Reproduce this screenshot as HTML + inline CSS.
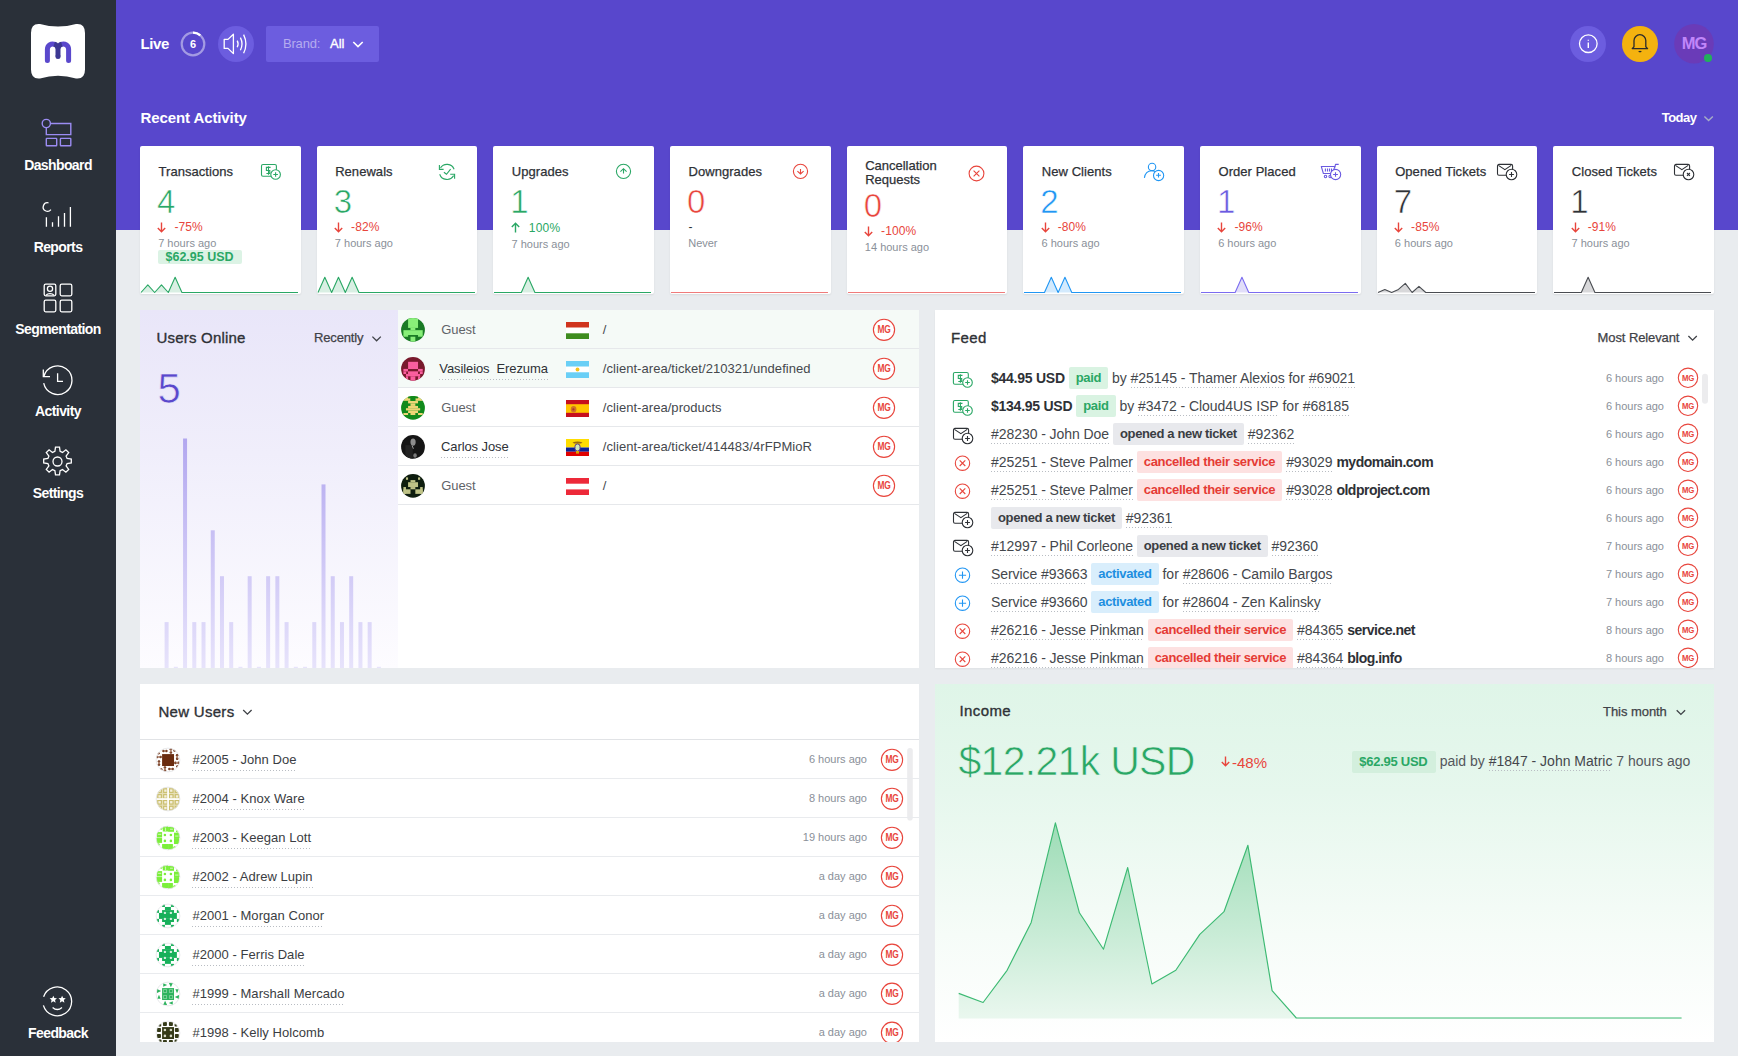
<!DOCTYPE html><html><head><meta charset="utf-8"><style>
*{box-sizing:border-box;margin:0;padding:0}
html,body{width:1738px;height:1056px;overflow:hidden;background:#e9ecef;font-family:"Liberation Sans", sans-serif}
.t{position:absolute;white-space:nowrap;line-height:1}
.a{position:absolute}
svg{position:absolute;overflow:visible}
.ul{background-image:linear-gradient(to right,#b9bdc3 50%,transparent 50%);background-size:3px 1px;background-repeat:repeat-x;background-position:0 100%;padding-bottom:5px}
.ul2{background-image:linear-gradient(to right,#b9bdc3 50%,transparent 50%);background-size:3px 1px;background-repeat:repeat-x;background-position:0 100%;padding-bottom:2px}
</style></head><body>
<div class="a" style="left:0;top:0;width:116px;height:1056px;background:#2a3039"></div><svg style="left:31px;top:23.5px" width="54" height="55" viewBox="0 0 54 55">
<path d="M9 0 Q27 5 45 0 Q54 -1 54 9 L54 45.5 Q54 55.5 45 54.5 Q27 49 9 54.5 Q0 55.5 0 45.5 L0 9 Q0 -1 9 0Z" fill="#fff"/>
<path d="M16.4 36.6 V25.2 A5.3 5.3 0 0 1 23.6 20.3" fill="none" stroke="#5a48cc" stroke-width="5" stroke-linecap="round"/>
<path d="M37.6 36.6 V25.2 A5.3 5.3 0 0 0 30.4 20.3" fill="none" stroke="#5a48cc" stroke-width="5" stroke-linecap="round"/>
<path d="M23.2 20.2 A5.3 5.3 0 0 1 27 25.2 V32.4 M30.8 20.2 A5.3 5.3 0 0 0 27 25.2" fill="none" stroke="#3d3893" stroke-width="5" stroke-linecap="butt"/>
<circle cx="27" cy="32.4" r="2.5" fill="#3d3893"/>
</svg><svg style="left:0;top:0" width="116" height="600">
<g fill="none" stroke="#9b8cf2" stroke-width="1.4">
<circle cx="46.3" cy="123.5" r="4.1"/>
<path d="M50.4 123.5 H70.8 V134.6 H46.3 V127.6"/>
<rect x="46.3" y="138.4" width="10.4" height="7.4" rx="0.5"/>
<rect x="60.4" y="138.4" width="10.4" height="7.4" rx="0.5"/>
</g>
<g fill="none" stroke="#fff" stroke-width="1.3">
<path d="M50.9 209.6 A4.3 4.3 0 1 1 48.5 202.8"/>
<path d="M46.4 217.2 V226.8 M52.5 222.2 V226.8 M58.5 216.2 V226.8 M64.5 212.9 V226.8 M70.4 206.9 V226.8"/>
<rect x="44.2" y="284.2" width="11.6" height="11.6" rx="1.5"/>
<rect x="60.2" y="284.2" width="11.6" height="11.6" rx="1.5"/>
<rect x="44.2" y="300.2" width="11.6" height="11.6" rx="1.5"/>
<rect x="60.2" y="300.2" width="11.6" height="11.6" rx="1.5"/>
<circle cx="50" cy="288.8" r="2.6"/>
<path d="M46 295.2 A5 4 0 0 1 54 295.2"/>
<path d="M43.9 376.4 A14.3 14.3 0 1 1 43.7 383.2"/>
<path d="M43.3 369.5 V376.6 H50"/>
<path d="M57.6 373.3 V381.4 H63"/>
<path d="M55.5 447.2 h4 l0.6 4.2 l2.4 1 l3.4 -2.6 l2.8 2.8 l-2.6 3.4 l1 2.4 l4.2 0.6 v4 l-4.2 0.6 l-1 2.4 l2.6 3.4 l-2.8 2.8 l-3.4 -2.6 l-2.4 1 l-0.6 4.2 h-4 l-0.6 -4.2 l-2.4 -1 l-3.4 2.6 l-2.8 -2.8 l2.6 -3.4 l-1 -2.4 l-4.2 -0.6 v-4 l4.2 -0.6 l1 -2.4 l-2.6 -3.4 l2.8 -2.8 l3.4 2.6 l2.4 -1 Z"/>
<circle cx="57.5" cy="461.5" r="4.5"/>
</g></svg><div class="t" style="left:0;width:116px;text-align:center;top:158.15px;font-size:14px;color:#fff;font-weight:700;letter-spacing:-0.6px">Dashboard</div><div class="t" style="left:0;width:116px;text-align:center;top:240.15px;font-size:14px;color:#fff;font-weight:700;letter-spacing:-0.6px">Reports</div><div class="t" style="left:0;width:116px;text-align:center;top:322.15px;font-size:14px;color:#fff;font-weight:700;letter-spacing:-0.6px">Segmentation</div><div class="t" style="left:0;width:116px;text-align:center;top:404.15px;font-size:14px;color:#fff;font-weight:700;letter-spacing:-0.6px">Activity</div><div class="t" style="left:0;width:116px;text-align:center;top:486.15px;font-size:14px;color:#fff;font-weight:700;letter-spacing:-0.6px">Settings</div><svg style="left:0;top:960px" width="116" height="96">
<g fill="none" stroke="#fff" stroke-width="1.3">
<path d="M43.6 36.8 A14.4 14.4 0 1 1 43.4 45.4"/>
<path d="M52.6 47.4 Q57.3 51.6 62 47.4"/>
</g>
<g fill="#fff">
<path transform="translate(53.3 39.3) scale(1.35) translate(-53.3 -39.3)" d="M53.3 36.6 l0.8 1.8 1.9 0.2 -1.4 1.3 0.4 1.9 -1.7 -1 -1.7 1 0.4 -1.9 -1.4 -1.3 1.9 -0.2z"/>
<path transform="translate(62.1 39.3) scale(1.35) translate(-62.1 -39.3)" d="M62.1 36.6 l0.8 1.8 1.9 0.2 -1.4 1.3 0.4 1.9 -1.7 -1 -1.7 1 0.4 -1.9 -1.4 -1.3 1.9 -0.2z"/>
</g></svg><div class="t" style="left:0;width:116px;text-align:center;top:1025.95px;font-size:14px;color:#fff;font-weight:700;letter-spacing:-0.6px">Feedback</div><div class="a" style="left:116px;top:0;width:1622px;height:230px;background:#5847cc"></div><div class="t" style="left:140.50px;top:36.00px;font-size:15px;color:#fff;font-weight:700;letter-spacing:-0.4px;">Live</div><svg style="left:0;top:0" width="1738" height="130">
<circle cx="193" cy="44" r="11.3" fill="none" stroke="rgba(255,255,255,0.45)" stroke-width="2.2"/>
<path d="M193 32.7 A11.3 11.3 0 0 1 200.3 35.4" fill="none" stroke="#fff" stroke-width="2.2"/>
<circle cx="236" cy="44" r="18" fill="#6c5ddf"/>
<g fill="none" stroke="#fff" stroke-width="1.3" stroke-linejoin="round">
<path d="M224.2 39.4 H228 L233.4 34.2 V53.6 L228 48.4 H224.2 Z"/>
<path d="M237.2 40.6 Q239 43.9 237.2 47.2"/>
<path d="M240.4 37.6 Q243.6 43.9 240.4 50.2"/>
<path d="M243.6 34.6 Q248.2 43.9 243.6 53.2"/>
</g>
<rect x="266" y="26" width="113" height="36" rx="2" fill="#6c5ddf"/>
<path d="M353.3 42 L358 46.6 L362.7 42" fill="none" stroke="#fff" stroke-width="1.6"/>
<circle cx="1588" cy="44" r="18" fill="#6c5ddf"/>
<circle cx="1588.3" cy="43.7" r="8.8" fill="none" stroke="#fff" stroke-width="1.3"/>
<path d="M1588.3 39.8 V40.8 M1588.3 42.4 V48" stroke="#fff" stroke-width="1.4"/>
<circle cx="1640" cy="44" r="18" fill="#f4b20f"/>
<g fill="none" stroke="#2b2b2b" stroke-width="1.3" stroke-linejoin="round">
<path d="M1634 46.8 V40.6 A5.9 5.9 0 0 1 1645.8 40.6 V46.8 L1647.6 48.6 H1632.2 L1634 46.8Z"/>
<path d="M1638.7 51.2 Q1640 52.2 1641.3 51.2"/>
</g>
<circle cx="1694" cy="43.8" r="19.8" fill="#6a3bb8"/>
<circle cx="1708" cy="57.9" r="4" fill="#22b05c"/>
<path d="M1704.4 116.4 L1708.6 120.6 L1712.8 116.4" fill="none" stroke="#a7aec6" stroke-width="1.4"/>
</svg><div class="t" style="left:193.00px;top:38.69px;font-size:11px;color:#fff;font-weight:700;letter-spacing:0px;transform:translateX(-50%)">6</div><div class="t" style="left:283.00px;top:37.10px;font-size:13px;color:#b5acef;font-weight:400;letter-spacing:-0.2px;">Brand:</div><div class="t" style="left:330.00px;top:37.10px;font-size:13px;color:#fff;font-weight:400;letter-spacing:0px;-webkit-text-stroke:0.35px #fff">All</div><div class="t" style="left:1694.00px;top:35.33px;font-size:16.5px;color:#c186fa;font-weight:700;letter-spacing:-1px;transform:translateX(-50%)">MG</div><div class="t" style="left:140.50px;top:110.30px;font-size:15px;color:#fff;font-weight:700;letter-spacing:-0.1px;">Recent Activity</div><div class="t" style="left:1661.70px;top:111.00px;font-size:13px;color:#fff;font-weight:700;letter-spacing:-0.5px;">Today</div><div class="a" style="left:140.00px;top:146px;width:160.67px;height:148px;background:#fff;border-radius:2px;box-shadow:0 1px 2px rgba(0,0,0,0.08)"><div class="t" style="left:18.50px;top:18.80px;font-size:13px;color:#2e3136;font-weight:400;letter-spacing:0.05px;-webkit-text-stroke:0.25px #2e3136">Transactions</div><div class="t" style="left:17.00px;top:39.37px;font-size:33px;color:#2aa765;font-weight:400;letter-spacing:0px;-webkit-text-stroke:0.6px #fff">4</div><svg style="left:17.3px;top:76.30000000000001px" width="9" height="11"><path d="M4.5 0.5 V9.6 M0.8 6 L4.5 9.8 L8.2 6" fill="none" stroke="#e8453c" stroke-width="1.4"/></svg><div class="t" style="left:34.40px;top:74.84px;font-size:12px;color:#e8453c;font-weight:400;letter-spacing:0.1px;">-75%</div><div class="t" style="left:18.20px;top:91.99px;font-size:11px;color:#8a9099;font-weight:400;letter-spacing:0px;">7 hours ago</div><div class="a" style="left:18.2px;top:104px;width:83.7px;height:13.6px;background:#dcf3e5;border-radius:2px"></div><div class="t" style="left:25.50px;top:105.12px;font-size:12.5px;color:#2aa765;font-weight:700;letter-spacing:0px;">$62.95 USD</div><svg style="left:0;top:0" width="160.67" height="148"><path d="M1.00 146.50 L7.82 138.90 L14.65 146.50 L21.47 138.90 L28.30 146.50 L35.12 131.30 L41.95 146.50 L48.77 146.50 L55.60 146.50 L62.42 146.50 L69.25 146.50 L76.07 146.50 L82.90 146.50 L89.72 146.50 L96.54 146.50 L103.37 146.50 L110.19 146.50 L117.02 146.50 L123.84 146.50 L130.67 146.50 L137.49 146.50 L144.32 146.50 L151.14 146.50 L157.97 146.50 L157.97 146.5 L1.00 146.5 Z" fill="rgba(42,167,101,0.18)"/><path d="M1.00 146.50 L7.82 138.90 L14.65 146.50 L21.47 138.90 L28.30 146.50 L35.12 131.30 L41.95 146.50 L48.77 146.50 L55.60 146.50 L62.42 146.50 L69.25 146.50 L76.07 146.50 L82.90 146.50 L89.72 146.50 L96.54 146.50 L103.37 146.50 L110.19 146.50 L117.02 146.50 L123.84 146.50 L130.67 146.50 L137.49 146.50 L144.32 146.50 L151.14 146.50 L157.97 146.50" fill="none" stroke="#2aa765" stroke-width="1.1" stroke-linejoin="round"/></svg></div><div class="a" style="left:316.67px;top:146px;width:160.67px;height:148px;background:#fff;border-radius:2px;box-shadow:0 1px 2px rgba(0,0,0,0.08)"><div class="t" style="left:18.50px;top:18.80px;font-size:13px;color:#2e3136;font-weight:400;letter-spacing:0.05px;-webkit-text-stroke:0.25px #2e3136">Renewals</div><div class="t" style="left:17.00px;top:39.37px;font-size:33px;color:#2aa765;font-weight:400;letter-spacing:0px;-webkit-text-stroke:0.6px #fff">3</div><svg style="left:17.3px;top:76.30000000000001px" width="9" height="11"><path d="M4.5 0.5 V9.6 M0.8 6 L4.5 9.8 L8.2 6" fill="none" stroke="#e8453c" stroke-width="1.4"/></svg><div class="t" style="left:34.40px;top:74.84px;font-size:12px;color:#e8453c;font-weight:400;letter-spacing:0.1px;">-82%</div><div class="t" style="left:18.20px;top:91.99px;font-size:11px;color:#8a9099;font-weight:400;letter-spacing:0px;">7 hours ago</div><svg style="left:0;top:0" width="160.67" height="148"><path d="M1.00 146.50 L7.82 131.30 L14.65 146.50 L21.47 131.30 L28.30 146.50 L35.12 131.30 L41.95 146.50 L48.77 146.50 L55.60 146.50 L62.42 146.50 L69.25 146.50 L76.07 146.50 L82.90 146.50 L89.72 146.50 L96.54 146.50 L103.37 146.50 L110.19 146.50 L117.02 146.50 L123.84 146.50 L130.67 146.50 L137.49 146.50 L144.32 146.50 L151.14 146.50 L157.97 146.50 L157.97 146.5 L1.00 146.5 Z" fill="rgba(42,167,101,0.18)"/><path d="M1.00 146.50 L7.82 131.30 L14.65 146.50 L21.47 131.30 L28.30 146.50 L35.12 131.30 L41.95 146.50 L48.77 146.50 L55.60 146.50 L62.42 146.50 L69.25 146.50 L76.07 146.50 L82.90 146.50 L89.72 146.50 L96.54 146.50 L103.37 146.50 L110.19 146.50 L117.02 146.50 L123.84 146.50 L130.67 146.50 L137.49 146.50 L144.32 146.50 L151.14 146.50 L157.97 146.50" fill="none" stroke="#2aa765" stroke-width="1.1" stroke-linejoin="round"/></svg></div><div class="a" style="left:493.33px;top:146px;width:160.67px;height:148px;background:#fff;border-radius:2px;box-shadow:0 1px 2px rgba(0,0,0,0.08)"><div class="t" style="left:18.50px;top:18.80px;font-size:13px;color:#2e3136;font-weight:400;letter-spacing:0.05px;-webkit-text-stroke:0.25px #2e3136">Upgrades</div><div class="t" style="left:17.00px;top:39.37px;font-size:33px;color:#2aa765;font-weight:400;letter-spacing:0px;-webkit-text-stroke:0.6px #fff">1</div><svg style="left:17.3px;top:76.30000000000001px" width="9" height="11"><path d="M4.5 10.5 V1.2 M0.8 5 L4.5 1.2 L8.2 5" fill="none" stroke="#2aa765" stroke-width="1.4"/></svg><div class="t" style="left:35.50px;top:75.84px;font-size:12px;color:#2aa765;font-weight:400;letter-spacing:0.2px;">100%</div><div class="t" style="left:18.20px;top:92.99px;font-size:11px;color:#8a9099;font-weight:400;letter-spacing:0px;">7 hours ago</div><svg style="left:0;top:0" width="160.67" height="148"><path d="M1.00 146.50 L7.82 146.50 L14.65 146.50 L21.47 146.50 L28.30 146.50 L35.12 131.30 L41.95 146.50 L48.77 146.50 L55.60 146.50 L62.42 146.50 L69.25 146.50 L76.07 146.50 L82.90 146.50 L89.72 146.50 L96.54 146.50 L103.37 146.50 L110.19 146.50 L117.02 146.50 L123.84 146.50 L130.67 146.50 L137.49 146.50 L144.32 146.50 L151.14 146.50 L157.97 146.50 L157.97 146.5 L1.00 146.5 Z" fill="rgba(42,167,101,0.18)"/><path d="M1.00 146.50 L7.82 146.50 L14.65 146.50 L21.47 146.50 L28.30 146.50 L35.12 131.30 L41.95 146.50 L48.77 146.50 L55.60 146.50 L62.42 146.50 L69.25 146.50 L76.07 146.50 L82.90 146.50 L89.72 146.50 L96.54 146.50 L103.37 146.50 L110.19 146.50 L117.02 146.50 L123.84 146.50 L130.67 146.50 L137.49 146.50 L144.32 146.50 L151.14 146.50 L157.97 146.50" fill="none" stroke="#2aa765" stroke-width="1.1" stroke-linejoin="round"/></svg></div><div class="a" style="left:670.00px;top:146px;width:160.67px;height:148px;background:#fff;border-radius:2px;box-shadow:0 1px 2px rgba(0,0,0,0.08)"><div class="t" style="left:18.50px;top:18.80px;font-size:13px;color:#2e3136;font-weight:400;letter-spacing:0.05px;-webkit-text-stroke:0.25px #2e3136">Downgrades</div><div class="t" style="left:17.00px;top:39.37px;font-size:33px;color:#e8453c;font-weight:400;letter-spacing:0px;-webkit-text-stroke:0.6px #fff">0</div><div class="t" style="left:18.50px;top:74.84px;font-size:12px;color:#2e3136;font-weight:400;letter-spacing:0px;">-</div><div class="t" style="left:18.20px;top:91.99px;font-size:11px;color:#8a9099;font-weight:400;letter-spacing:0px;">Never</div><svg style="left:0;top:0" width="160.67" height="148"><path d="M1.00 146.50 L7.82 146.50 L14.65 146.50 L21.47 146.50 L28.30 146.50 L35.12 146.50 L41.95 146.50 L48.77 146.50 L55.60 146.50 L62.42 146.50 L69.25 146.50 L76.07 146.50 L82.90 146.50 L89.72 146.50 L96.54 146.50 L103.37 146.50 L110.19 146.50 L117.02 146.50 L123.84 146.50 L130.67 146.50 L137.49 146.50 L144.32 146.50 L151.14 146.50 L157.97 146.50 L157.97 146.5 L1.00 146.5 Z" fill="rgba(0,0,0,0)"/><path d="M1.00 146.50 L7.82 146.50 L14.65 146.50 L21.47 146.50 L28.30 146.50 L35.12 146.50 L41.95 146.50 L48.77 146.50 L55.60 146.50 L62.42 146.50 L69.25 146.50 L76.07 146.50 L82.90 146.50 L89.72 146.50 L96.54 146.50 L103.37 146.50 L110.19 146.50 L117.02 146.50 L123.84 146.50 L130.67 146.50 L137.49 146.50 L144.32 146.50 L151.14 146.50 L157.97 146.50" fill="none" stroke="#ef7b7b" stroke-width="1.1" stroke-linejoin="round"/></svg></div><div class="a" style="left:846.67px;top:146px;width:160.67px;height:148px;background:#fff;border-radius:2px;box-shadow:0 1px 2px rgba(0,0,0,0.08)"><div class="t" style="left:18.5px;top:13.30px;font-size:13px;line-height:13.6px;color:#2e3136;-webkit-text-stroke:0.25px #2e3136">Cancellation<br>Requests</div><div class="t" style="left:17.00px;top:43.37px;font-size:33px;color:#e8453c;font-weight:400;letter-spacing:0px;-webkit-text-stroke:0.6px #fff">0</div><svg style="left:17.3px;top:80.30000000000001px" width="9" height="11"><path d="M4.5 0.5 V9.6 M0.8 6 L4.5 9.8 L8.2 6" fill="none" stroke="#e8453c" stroke-width="1.4"/></svg><div class="t" style="left:34.40px;top:78.84px;font-size:12px;color:#e8453c;font-weight:400;letter-spacing:0.1px;">-100%</div><div class="t" style="left:18.20px;top:95.99px;font-size:11px;color:#8a9099;font-weight:400;letter-spacing:0px;">14 hours ago</div><svg style="left:0;top:0" width="160.67" height="148"><path d="M1.00 146.50 L7.82 146.50 L14.65 146.50 L21.47 146.50 L28.30 146.50 L35.12 146.50 L41.95 146.50 L48.77 146.50 L55.60 146.50 L62.42 146.50 L69.25 146.50 L76.07 146.50 L82.90 146.50 L89.72 146.50 L96.54 146.50 L103.37 146.50 L110.19 146.50 L117.02 146.50 L123.84 146.50 L130.67 146.50 L137.49 146.50 L144.32 146.50 L151.14 146.50 L157.97 146.50 L157.97 146.5 L1.00 146.5 Z" fill="rgba(0,0,0,0)"/><path d="M1.00 146.50 L7.82 146.50 L14.65 146.50 L21.47 146.50 L28.30 146.50 L35.12 146.50 L41.95 146.50 L48.77 146.50 L55.60 146.50 L62.42 146.50 L69.25 146.50 L76.07 146.50 L82.90 146.50 L89.72 146.50 L96.54 146.50 L103.37 146.50 L110.19 146.50 L117.02 146.50 L123.84 146.50 L130.67 146.50 L137.49 146.50 L144.32 146.50 L151.14 146.50 L157.97 146.50" fill="none" stroke="#ef7b7b" stroke-width="1.1" stroke-linejoin="round"/></svg></div><div class="a" style="left:1023.33px;top:146px;width:160.67px;height:148px;background:#fff;border-radius:2px;box-shadow:0 1px 2px rgba(0,0,0,0.08)"><div class="t" style="left:18.50px;top:18.80px;font-size:13px;color:#2e3136;font-weight:400;letter-spacing:0.05px;-webkit-text-stroke:0.25px #2e3136">New Clients</div><div class="t" style="left:17.00px;top:39.37px;font-size:33px;color:#2196f3;font-weight:400;letter-spacing:0px;-webkit-text-stroke:0.6px #fff">2</div><svg style="left:17.3px;top:76.30000000000001px" width="9" height="11"><path d="M4.5 0.5 V9.6 M0.8 6 L4.5 9.8 L8.2 6" fill="none" stroke="#e8453c" stroke-width="1.4"/></svg><div class="t" style="left:34.40px;top:74.84px;font-size:12px;color:#e8453c;font-weight:400;letter-spacing:0.1px;">-80%</div><div class="t" style="left:18.20px;top:91.99px;font-size:11px;color:#8a9099;font-weight:400;letter-spacing:0px;">6 hours ago</div><svg style="left:0;top:0" width="160.67" height="148"><path d="M1.00 146.50 L7.82 146.50 L14.65 146.50 L21.47 146.50 L28.30 131.30 L35.12 146.50 L41.95 131.30 L48.77 146.50 L55.60 146.50 L62.42 146.50 L69.25 146.50 L76.07 146.50 L82.90 146.50 L89.72 146.50 L96.54 146.50 L103.37 146.50 L110.19 146.50 L117.02 146.50 L123.84 146.50 L130.67 146.50 L137.49 146.50 L144.32 146.50 L151.14 146.50 L157.97 146.50 L157.97 146.5 L1.00 146.5 Z" fill="rgba(33,150,243,0.2)"/><path d="M1.00 146.50 L7.82 146.50 L14.65 146.50 L21.47 146.50 L28.30 131.30 L35.12 146.50 L41.95 131.30 L48.77 146.50 L55.60 146.50 L62.42 146.50 L69.25 146.50 L76.07 146.50 L82.90 146.50 L89.72 146.50 L96.54 146.50 L103.37 146.50 L110.19 146.50 L117.02 146.50 L123.84 146.50 L130.67 146.50 L137.49 146.50 L144.32 146.50 L151.14 146.50 L157.97 146.50" fill="none" stroke="#2196f3" stroke-width="1.1" stroke-linejoin="round"/></svg></div><div class="a" style="left:1200.00px;top:146px;width:160.67px;height:148px;background:#fff;border-radius:2px;box-shadow:0 1px 2px rgba(0,0,0,0.08)"><div class="t" style="left:18.50px;top:18.80px;font-size:13px;color:#2e3136;font-weight:400;letter-spacing:0.05px;-webkit-text-stroke:0.25px #2e3136">Order Placed</div><div class="t" style="left:17.00px;top:39.37px;font-size:33px;color:#6a5ae0;font-weight:400;letter-spacing:0px;-webkit-text-stroke:0.6px #fff">1</div><svg style="left:17.3px;top:76.30000000000001px" width="9" height="11"><path d="M4.5 0.5 V9.6 M0.8 6 L4.5 9.8 L8.2 6" fill="none" stroke="#e8453c" stroke-width="1.4"/></svg><div class="t" style="left:34.40px;top:74.84px;font-size:12px;color:#e8453c;font-weight:400;letter-spacing:0.1px;">-96%</div><div class="t" style="left:18.20px;top:91.99px;font-size:11px;color:#8a9099;font-weight:400;letter-spacing:0px;">6 hours ago</div><svg style="left:0;top:0" width="160.67" height="148"><path d="M1.00 146.50 L7.82 146.50 L14.65 146.50 L21.47 146.50 L28.30 146.50 L35.12 146.50 L41.95 131.30 L48.77 146.50 L55.60 146.50 L62.42 146.50 L69.25 146.50 L76.07 146.50 L82.90 146.50 L89.72 146.50 L96.54 146.50 L103.37 146.50 L110.19 146.50 L117.02 146.50 L123.84 146.50 L130.67 146.50 L137.49 146.50 L144.32 146.50 L151.14 146.50 L157.97 146.50 L157.97 146.5 L1.00 146.5 Z" fill="rgba(106,90,224,0.2)"/><path d="M1.00 146.50 L7.82 146.50 L14.65 146.50 L21.47 146.50 L28.30 146.50 L35.12 146.50 L41.95 131.30 L48.77 146.50 L55.60 146.50 L62.42 146.50 L69.25 146.50 L76.07 146.50 L82.90 146.50 L89.72 146.50 L96.54 146.50 L103.37 146.50 L110.19 146.50 L117.02 146.50 L123.84 146.50 L130.67 146.50 L137.49 146.50 L144.32 146.50 L151.14 146.50 L157.97 146.50" fill="none" stroke="#7b6cf0" stroke-width="1.1" stroke-linejoin="round"/></svg></div><div class="a" style="left:1376.67px;top:146px;width:160.67px;height:148px;background:#fff;border-radius:2px;box-shadow:0 1px 2px rgba(0,0,0,0.08)"><div class="t" style="left:18.50px;top:18.80px;font-size:13px;color:#2e3136;font-weight:400;letter-spacing:0.05px;-webkit-text-stroke:0.25px #2e3136">Opened Tickets</div><div class="t" style="left:17.00px;top:39.37px;font-size:33px;color:#2e3136;font-weight:400;letter-spacing:0px;-webkit-text-stroke:0.6px #fff">7</div><svg style="left:17.3px;top:76.30000000000001px" width="9" height="11"><path d="M4.5 0.5 V9.6 M0.8 6 L4.5 9.8 L8.2 6" fill="none" stroke="#e8453c" stroke-width="1.4"/></svg><div class="t" style="left:34.40px;top:74.84px;font-size:12px;color:#e8453c;font-weight:400;letter-spacing:0.1px;">-85%</div><div class="t" style="left:18.20px;top:91.99px;font-size:11px;color:#8a9099;font-weight:400;letter-spacing:0px;">6 hours ago</div><svg style="left:0;top:0" width="160.67" height="148"><path d="M1.00 146.50 L7.82 143.46 L14.65 146.50 L21.47 143.46 L28.30 137.38 L35.12 146.50 L41.95 140.42 L48.77 146.50 L55.60 146.50 L62.42 146.50 L69.25 146.50 L76.07 146.50 L82.90 146.50 L89.72 146.50 L96.54 146.50 L103.37 146.50 L110.19 146.50 L117.02 146.50 L123.84 146.50 L130.67 146.50 L137.49 146.50 L144.32 146.50 L151.14 146.50 L157.97 146.50 L157.97 146.5 L1.00 146.5 Z" fill="rgba(60,60,70,0.2)"/><path d="M1.00 146.50 L7.82 143.46 L14.65 146.50 L21.47 143.46 L28.30 137.38 L35.12 146.50 L41.95 140.42 L48.77 146.50 L55.60 146.50 L62.42 146.50 L69.25 146.50 L76.07 146.50 L82.90 146.50 L89.72 146.50 L96.54 146.50 L103.37 146.50 L110.19 146.50 L117.02 146.50 L123.84 146.50 L130.67 146.50 L137.49 146.50 L144.32 146.50 L151.14 146.50 L157.97 146.50" fill="none" stroke="#4a4d52" stroke-width="1.1" stroke-linejoin="round"/></svg></div><div class="a" style="left:1553.33px;top:146px;width:160.67px;height:148px;background:#fff;border-radius:2px;box-shadow:0 1px 2px rgba(0,0,0,0.08)"><div class="t" style="left:18.50px;top:18.80px;font-size:13px;color:#2e3136;font-weight:400;letter-spacing:0.05px;-webkit-text-stroke:0.25px #2e3136">Closed Tickets</div><div class="t" style="left:17.00px;top:39.37px;font-size:33px;color:#2e3136;font-weight:400;letter-spacing:0px;-webkit-text-stroke:0.6px #fff">1</div><svg style="left:17.3px;top:76.30000000000001px" width="9" height="11"><path d="M4.5 0.5 V9.6 M0.8 6 L4.5 9.8 L8.2 6" fill="none" stroke="#e8453c" stroke-width="1.4"/></svg><div class="t" style="left:34.40px;top:74.84px;font-size:12px;color:#e8453c;font-weight:400;letter-spacing:0.1px;">-91%</div><div class="t" style="left:18.20px;top:91.99px;font-size:11px;color:#8a9099;font-weight:400;letter-spacing:0px;">7 hours ago</div><svg style="left:0;top:0" width="160.67" height="148"><path d="M1.00 146.50 L7.82 146.50 L14.65 146.50 L21.47 146.50 L28.30 146.50 L35.12 131.30 L41.95 146.50 L48.77 146.50 L55.60 146.50 L62.42 146.50 L69.25 146.50 L76.07 146.50 L82.90 146.50 L89.72 146.50 L96.54 146.50 L103.37 146.50 L110.19 146.50 L117.02 146.50 L123.84 146.50 L130.67 146.50 L137.49 146.50 L144.32 146.50 L151.14 146.50 L157.97 146.50 L157.97 146.5 L1.00 146.5 Z" fill="rgba(60,60,70,0.2)"/><path d="M1.00 146.50 L7.82 146.50 L14.65 146.50 L21.47 146.50 L28.30 146.50 L35.12 131.30 L41.95 146.50 L48.77 146.50 L55.60 146.50 L62.42 146.50 L69.25 146.50 L76.07 146.50 L82.90 146.50 L89.72 146.50 L96.54 146.50 L103.37 146.50 L110.19 146.50 L117.02 146.50 L123.84 146.50 L130.67 146.50 L137.49 146.50 L144.32 146.50 L151.14 146.50 L157.97 146.50" fill="none" stroke="#4a4d52" stroke-width="1.1" stroke-linejoin="round"/></svg></div><svg style="left:0;top:0" width="1738" height="200"><g transform="translate(255 158)"><g fill="none" stroke="#2aa765" stroke-width="1.1"><rect x="6.5" y="6.5" width="14.9" height="11.8" rx="1.5"/><path d="M15.6 9.4 H11.4 V12.5 H14.8 V15.5 H11.4 M13.5 8.2 V16.8"/><circle cx="20.6" cy="16.5" r="4.8" fill="#fff"/><path d="M20.6 14.2 V18.8 M18.3 16.5 H22.9"/></g></g><g transform="translate(432 158)"><g fill="none" stroke="#2aa765" stroke-width="1.1"><path d="M8.5 9.9 A7.67 7.67 0 0 1 22.1 11.2"/><path d="M7.4 7.1 V11.4 H11.6"/><path d="M7.7 16.2 A7.67 7.67 0 0 0 21.6 17.6"/><path d="M22.6 20.7 V16.2 H18.2"/><path d="M11.9 14.2 L14.5 16.3 L18.6 11.2"/></g></g><g transform="translate(608 158)"><g fill="none" stroke="#2aa765" stroke-width="1.1"><circle cx="15.5" cy="13.35" r="7.1"/><path d="M15.5 15.6 V10.8 M12.4 13.6 L15.5 10.7 L18.6 13.6"/></g></g><g transform="translate(785 158)"><g fill="none" stroke="#e8453c" stroke-width="1.1"><circle cx="15.5" cy="13.35" r="7.1"/><path d="M15.5 11.1 V15.9 M12.4 13.1 L15.5 16 L18.6 13.1"/></g></g><g transform="translate(961 158)"><g fill="none" stroke="#e8453c" stroke-width="1.1"><circle cx="15.5" cy="15.5" r="7.4"/><path d="M12.6 12.6 L18.4 18.4 M18.4 12.6 L12.6 18.4"/></g></g><g transform="translate(1139 158)"><g fill="none" stroke="#2196f3" stroke-width="1.1"><circle cx="13.07" cy="8.95" r="3.7"/><path d="M5.4 19.9 Q6.3 12.8 12.8 12.7 Q14.6 12.7 16 13.4"/><circle cx="19.6" cy="17.5" r="5.1" fill="#fff"/><path d="M19.5 15 V19.6 M17.1 17.3 H21.9"/></g></g><g transform="translate(1316 158)"><g fill="none" stroke="#6a5ae0" stroke-width="1.1" stroke-linejoin="round"><path d="M18.8 9.4 L19.5 6.4 H22.7"/><path d="M5.3 8.5 H18.9 L16.4 15.5 H7.4 Z"/><path d="M9.4 10.4 V13.6 M11.5 10.4 V13.6 M13.5 10.4 V13.6 M15.5 10.4 V13.6"/><circle cx="9.5" cy="18.5" r="1.2"/><circle cx="14.1" cy="18.5" r="1.2"/><circle cx="19.6" cy="16.5" r="5.1" fill="#fff"/><path d="M19.5 14.2 V18.8 M17.1 16.5 H21.9"/></g></g><g transform="translate(1493 158)"><g fill="none" stroke="#2e3136" stroke-width="1.1"><rect x="4.5" y="6.4" width="15.1" height="10.9" rx="1.5"/><path d="M5.4 7.4 L11.9 11.6 L18.2 7.4"/><circle cx="18.5" cy="16.5" r="5.3" fill="#fff"/><path d="M18.5 14.1 V18.9 M16.1 16.5 H20.9"/></g></g><g transform="translate(1670 158)"><g fill="none" stroke="#2e3136" stroke-width="1.1"><rect x="4.5" y="6.4" width="15.1" height="10.9" rx="1.5"/><path d="M5.4 7.4 L11.9 11.6 L18.2 7.4"/><circle cx="18.5" cy="16.5" r="5.3" fill="#fff"/><path d="M17 15 L19.9 17.9 M19.9 15 L17 17.9"/></g></g></svg><div class="a" style="left:140px;top:310px;width:779px;height:358px;background:#fff;overflow:hidden"><div class="a" style="left:0;top:0;width:258px;height:358px;background:linear-gradient(to bottom,#e9e6f9 0%,#f0eefb 40%,#fdfcff 100%)"></div><div class="t" style="left:16.50px;top:19.90px;font-size:15px;color:#2e3136;font-weight:400;letter-spacing:0.2px;-webkit-text-stroke:0.35px #2e3136">Users Online</div><div class="t" style="left:174.00px;top:21.00px;font-size:13px;color:#3f4247;font-weight:400;letter-spacing:-0.15px;-webkit-text-stroke:0.25px #3f4247">Recently</div><svg style="left:0;top:0" width="258" height="358"><path d="M232.4 26.6 L236.6 30.8 L240.8 26.6" fill="none" stroke="#3f4247" stroke-width="1.3"/></svg><div class="t" style="left:17.50px;top:57.95px;font-size:42px;color:#5a48cc;font-weight:400;letter-spacing:0px;-webkit-text-stroke:0.7px #ebe8f9">5</div><svg style="left:0;top:0" width="258" height="358"><defs><linearGradient id="bg1" gradientUnits="userSpaceOnUse" x1="0" y1="128" x2="0" y2="358"><stop offset="0" stop-color="#b2a7ef"/><stop offset="1" stop-color="#e7e3fb"/></linearGradient></defs><g fill="url(#bg1)"><rect x="24.60" y="312.10" width="4" height="45.90"/><rect x="33.83" y="356.80" width="4" height="1.20"/><rect x="43.06" y="128.50" width="4" height="229.50"/><rect x="52.29" y="312.10" width="4" height="45.90"/><rect x="61.52" y="312.10" width="4" height="45.90"/><rect x="70.75" y="220.30" width="4" height="137.70"/><rect x="79.98" y="266.20" width="4" height="91.80"/><rect x="89.21" y="312.10" width="4" height="45.90"/><rect x="98.44" y="356.80" width="4" height="1.20"/><rect x="107.67" y="266.20" width="4" height="91.80"/><rect x="116.90" y="356.80" width="4" height="1.20"/><rect x="126.13" y="266.20" width="4" height="91.80"/><rect x="135.36" y="266.20" width="4" height="91.80"/><rect x="144.59" y="312.10" width="4" height="45.90"/><rect x="153.82" y="356.80" width="4" height="1.20"/><rect x="163.05" y="356.80" width="4" height="1.20"/><rect x="172.28" y="312.10" width="4" height="45.90"/><rect x="181.51" y="174.40" width="4" height="183.60"/><rect x="190.74" y="266.20" width="4" height="91.80"/><rect x="199.97" y="312.10" width="4" height="45.90"/><rect x="209.20" y="266.20" width="4" height="91.80"/><rect x="218.43" y="312.10" width="4" height="45.90"/><rect x="227.66" y="312.10" width="4" height="45.90"/><rect x="236.89" y="356.80" width="4" height="1.20"/></g></svg><div class="a" style="left:258px;top:0px;width:521px;height:39px;background:#f5faf7;border-bottom:1px solid #e6e8eb"></div><svg style="left:0;top:0" width="779" height="358"><clipPath id="av314"><circle cx="273.00" cy="19.91" r="11.9"/></clipPath><g clip-path="url(#av314)"><rect x="258.00" y="4.00" width="30" height="30" fill="#197a25"/><rect x="268.09" y="7.98" width="9.94" height="9.94" fill="#88ef79"/><rect x="270.50" y="17.92" width="4.83" height="2.27" fill="#88ef79"/><rect x="263.40" y="20.19" width="19.32" height="4.83" fill="#88ef79"/><rect x="263.40" y="25.02" width="4.69" height="1.70" fill="#88ef79"/><rect x="278.03" y="25.02" width="4.69" height="1.70" fill="#88ef79"/><rect x="270.50" y="26.73" width="4.83" height="5.11" fill="#88ef79"/></g></svg><div class="t" style="left:301.30px;top:12.90px;font-size:13px;color:#5f6368;font-weight:400;letter-spacing:-0.1px;">Guest</div><svg style="left:426px;top:12px" width="23" height="17"><rect width="23" height="5.7" fill="#d0341e"/><rect y="5.7" width="23" height="5.7" fill="#fff"/><rect y="11.3" width="23" height="5.7" fill="#3f8c1f"/></svg><div class="t" style="left:462.80px;top:12.90px;font-size:13px;color:#45484d;font-weight:400;letter-spacing:0.05px;">/</div><svg style="left:0;top:0" width="779" height="358"><circle cx="744" cy="19.8" r="10.6" fill="#fff" stroke="#e8453c" stroke-width="1.15"/></svg><div class="t" style="left:744.00px;top:14.41px;font-size:10.5px;color:#e8453c;font-weight:700;letter-spacing:-0.3px;transform:translateX(-50%) scaleX(0.8)">MG</div><div class="a" style="left:258px;top:39px;width:521px;height:39px;background:#f5faf7;border-bottom:1px solid #e6e8eb"></div><svg style="left:0;top:0" width="779" height="358"><clipPath id="av353"><circle cx="273.00" cy="58.91" r="11.9"/></clipPath><g clip-path="url(#av353)"><rect x="258.00" y="43.00" width="30" height="30" fill="#78192c"/><rect x="268.09" y="51.81" width="9.94" height="7.39" fill="#fa5e9e"/><rect x="263.40" y="58.91" width="4.69" height="2.56" fill="#fa5e9e"/><rect x="278.03" y="58.91" width="4.69" height="2.56" fill="#fa5e9e"/><rect x="263.40" y="61.47" width="2.84" height="2.56" fill="#fa5e9e"/><rect x="267.94" y="61.18" width="10.09" height="2.84" fill="#fa5e9e"/><rect x="279.88" y="61.47" width="2.84" height="2.56" fill="#fa5e9e"/><rect x="265.95" y="64.02" width="14.20" height="2.27" fill="#fa5e9e"/><rect x="265.95" y="66.30" width="2.13" height="4.55" fill="#fa5e9e"/><rect x="270.50" y="66.30" width="4.83" height="4.55" fill="#fa5e9e"/><rect x="278.03" y="66.30" width="2.13" height="4.55" fill="#fa5e9e"/><rect x="268.09" y="59.19" width="9.94" height="1.99" fill="#78192c"/></g></svg><div class="t ul" style="left:299.3px;top:51.90px;font-size:13px;color:#2e3136;letter-spacing:-0.1px">Vasileios&nbsp; Erezuma</div><svg style="left:426px;top:51px" width="23" height="17"><rect width="23" height="5.7" fill="#6acff6"/><rect y="5.7" width="23" height="5.7" fill="#fff"/><rect y="11.3" width="23" height="5.7" fill="#6acff6"/><circle cx="11.5" cy="8.5" r="1.9" fill="#f6c21c"/></svg><div class="t" style="left:462.80px;top:51.90px;font-size:13px;color:#45484d;font-weight:400;letter-spacing:0.05px;">/client-area/ticket/210321/undefined</div><svg style="left:0;top:0" width="779" height="358"><circle cx="744" cy="58.8" r="10.6" fill="#fff" stroke="#e8453c" stroke-width="1.15"/></svg><div class="t" style="left:744.00px;top:53.41px;font-size:10.5px;color:#e8453c;font-weight:700;letter-spacing:-0.3px;transform:translateX(-50%) scaleX(0.8)">MG</div><div class="a" style="left:258px;top:78px;width:521px;height:39px;border-bottom:1px solid #e6e8eb"></div><svg style="left:0;top:0" width="779" height="358"><clipPath id="av392"><circle cx="273.00" cy="97.91" r="11.9"/></clipPath><g clip-path="url(#av392)"><rect x="258.00" y="82.00" width="30" height="30" fill="#118a1b"/><rect x="263.40" y="85.98" width="7.10" height="4.83" fill="#efd676"/><rect x="275.33" y="85.98" width="7.39" height="4.83" fill="#efd676"/><rect x="268.09" y="90.81" width="9.94" height="2.56" fill="#efd676"/><rect x="270.50" y="93.36" width="4.83" height="2.56" fill="#efd676"/><rect x="268.09" y="95.92" width="9.94" height="2.27" fill="#efd676"/><rect x="265.95" y="98.19" width="14.20" height="2.27" fill="#efd676"/><rect x="268.09" y="100.47" width="9.94" height="2.56" fill="#efd676"/><rect x="263.40" y="103.02" width="4.69" height="1.99" fill="#efd676"/><rect x="270.50" y="103.02" width="4.83" height="1.99" fill="#efd676"/><rect x="278.03" y="103.02" width="4.69" height="1.99" fill="#efd676"/><rect x="268.09" y="85.98" width="9.94" height="2.41" fill="#118a1b"/><rect x="270.50" y="88.39" width="4.83" height="2.41" fill="#118a1b"/></g></svg><div class="t" style="left:301.30px;top:90.90px;font-size:13px;color:#5f6368;font-weight:400;letter-spacing:-0.1px;">Guest</div><svg style="left:426px;top:90px" width="23" height="17"><rect width="23" height="17" fill="#c60f1e"/><rect y="4.2" width="23" height="8.6" fill="#ffc400"/><ellipse cx="7.6" cy="9.2" rx="2.8" ry="3.2" fill="#c9662c" opacity="0.85"/><circle cx="7.4" cy="9.4" r="1.1" fill="#a33"/></svg><div class="t" style="left:462.80px;top:90.90px;font-size:13px;color:#45484d;font-weight:400;letter-spacing:0.05px;">/client-area/products</div><svg style="left:0;top:0" width="779" height="358"><circle cx="744" cy="97.8" r="10.6" fill="#fff" stroke="#e8453c" stroke-width="1.15"/></svg><div class="t" style="left:744.00px;top:92.41px;font-size:10.5px;color:#e8453c;font-weight:700;letter-spacing:-0.3px;transform:translateX(-50%) scaleX(0.8)">MG</div><div class="a" style="left:258px;top:117px;width:521px;height:39px;border-bottom:1px solid #e6e8eb"></div><svg style="left:0;top:0" width="779" height="358"><clipPath id="av431"><circle cx="273.00" cy="136.91" r="11.9"/></clipPath><g clip-path="url(#av431)"><rect x="258.00" y="121.00" width="30" height="30" fill="#151515"/><rect x="265.39" y="135.20" width="7.39" height="13.64" fill="#232323"/><ellipse cx="273.06" cy="132.08" rx="2.6" ry="3.6" fill="#8d8d8d"/><ellipse cx="275.05" cy="145.43" rx="1.8" ry="2.2" fill="#7a7a7a"/><path d="M272.20 135.77 l1.2 3" stroke="#bbb" stroke-width="0.8"/></g></svg><div class="t ul" style="left:301px;top:129.90px;font-size:13px;color:#2e3136;letter-spacing:-0.1px">Carlos Jose</div><svg style="left:426px;top:129px" width="23" height="17"><rect width="23" height="8.5" fill="#ffdd00"/><rect y="8.5" width="23" height="4.25" fill="#0b2195"/><rect y="12.75" width="23" height="4.25" fill="#e00000"/><path d="M6.5 3.5 Q11.5 1.5 16.5 3.5 L15 4.6 H8 Z" fill="#9a6a12"/><rect x="9" y="5" width="5" height="7" rx="2.3" fill="#cfe9b8" stroke="#5a3a8a" stroke-width="1"/><rect x="10" y="12" width="3" height="2.6" fill="#d9a400"/></svg><div class="t" style="left:462.80px;top:129.90px;font-size:13px;color:#45484d;font-weight:400;letter-spacing:0.05px;">/client-area/ticket/414483/4rFPMioR</div><svg style="left:0;top:0" width="779" height="358"><circle cx="744" cy="136.8" r="10.6" fill="#fff" stroke="#e8453c" stroke-width="1.15"/></svg><div class="t" style="left:744.00px;top:131.41px;font-size:10.5px;color:#e8453c;font-weight:700;letter-spacing:-0.3px;transform:translateX(-50%) scaleX(0.8)">MG</div><div class="a" style="left:258px;top:156px;width:521px;height:39px;border-bottom:1px solid #e6e8eb"></div><svg style="left:0;top:0" width="779" height="358"><clipPath id="av470"><circle cx="273.00" cy="175.91" r="11.9"/></clipPath><g clip-path="url(#av470)"><rect x="258.00" y="160.00" width="30" height="30" fill="#0e1d0f"/><rect x="265.95" y="167.39" width="2.13" height="2.41" fill="#bfc387"/><rect x="278.03" y="167.39" width="2.13" height="2.41" fill="#bfc387"/><rect x="270.50" y="170.09" width="4.83" height="2.13" fill="#bfc387"/><rect x="268.09" y="172.22" width="9.94" height="4.83" fill="#bfc387"/><rect x="270.50" y="177.05" width="4.83" height="2.27" fill="#bfc387"/><rect x="263.40" y="177.05" width="2.56" height="6.82" fill="#bfc387"/><rect x="263.40" y="179.32" width="7.10" height="4.55" fill="#bfc387"/><rect x="280.16" y="177.05" width="2.56" height="6.82" fill="#bfc387"/><rect x="275.33" y="179.32" width="7.39" height="4.55" fill="#bfc387"/></g></svg><div class="t" style="left:301.30px;top:168.90px;font-size:13px;color:#5f6368;font-weight:400;letter-spacing:-0.1px;">Guest</div><svg style="left:426px;top:168px" width="23" height="17"><rect width="23" height="17" fill="#ed2939"/><rect y="5.7" width="23" height="5.7" fill="#fff"/></svg><div class="t" style="left:462.80px;top:168.90px;font-size:13px;color:#45484d;font-weight:400;letter-spacing:0.05px;">/</div><svg style="left:0;top:0" width="779" height="358"><circle cx="744" cy="175.8" r="10.6" fill="#fff" stroke="#e8453c" stroke-width="1.15"/></svg><div class="t" style="left:744.00px;top:170.41px;font-size:10.5px;color:#e8453c;font-weight:700;letter-spacing:-0.3px;transform:translateX(-50%) scaleX(0.8)">MG</div></div><div class="a" style="left:935px;top:310px;width:779px;height:358px;background:#fff;overflow:hidden;box-shadow:0 1px 2px rgba(0,0,0,0.05)"><div class="t" style="left:16.00px;top:20.30px;font-size:15px;color:#2e3136;font-weight:400;letter-spacing:0.35px;-webkit-text-stroke:0.35px #2e3136">Feed</div><div class="t" style="left:662.60px;top:20.90px;font-size:13px;color:#3f4247;font-weight:400;letter-spacing:-0.1px;-webkit-text-stroke:0.25px #3f4247">Most Relevant</div><svg style="left:0;top:0" width="779" height="358"><path d="M753.4 26 L757.6 30.2 L761.8 26" fill="none" stroke="#3f4247" stroke-width="1.3"/><rect x="767" y="63.8" width="6" height="30" rx="3" fill="#ececee"/></svg><svg style="left:13px;top:56px" width="30" height="30"><g transform="translate(-1.1 0)"><g fill="none" stroke="#2aa765" stroke-width="1.1"><rect x="6.5" y="6.5" width="14.9" height="11.8" rx="1.5"/><path d="M15.6 9.4 H11.4 V12.5 H14.8 V15.5 H11.4 M13.5 8.2 V16.8"/><circle cx="20.6" cy="16.5" r="4.8" fill="#fff"/><path d="M20.6 14.2 V18.8 M18.3 16.5 H22.9"/></g></g></svg><div class="t" style="left:56px;top:57.20px;font-size:14px;line-height:21.6px;color:#44474c;letter-spacing:0px"><b style="color:#2e3136;letter-spacing:-0.25px">$44.95 USD</b> <span style="display:inline-block;font-weight:700;color:#2aa765;background:#d9f3e2;border-radius:2px;padding:0 7px;line-height:21.6px;font-size:13px;letter-spacing:-0.35px;vertical-align:1px">paid</span> by <span class="ul2" style="letter-spacing:-0.06px">#25145 - Thamer Alexios</span> for <span class="ul2" style="letter-spacing:-0.06px">#69021</span></div><div class="t" style="left:729.00px;top:62.89px;font-size:11px;color:#8a9099;font-weight:400;letter-spacing:0px;text-align:right;transform:translateX(-100%)">6 hours ago</div><svg style="left:0;top:0" width="779" height="358"><circle cx="753" cy="67.8" r="9.7" fill="#fff" stroke="#e8453c" stroke-width="1.1"/></svg><div class="t" style="left:753.00px;top:62.96px;font-size:9.5px;color:#e8453c;font-weight:700;letter-spacing:-0.3px;transform:translateX(-50%) scaleX(0.82)">MG</div><svg style="left:13px;top:84px" width="30" height="30"><g transform="translate(-1.1 0)"><g fill="none" stroke="#2aa765" stroke-width="1.1"><rect x="6.5" y="6.5" width="14.9" height="11.8" rx="1.5"/><path d="M15.6 9.4 H11.4 V12.5 H14.8 V15.5 H11.4 M13.5 8.2 V16.8"/><circle cx="20.6" cy="16.5" r="4.8" fill="#fff"/><path d="M20.6 14.2 V18.8 M18.3 16.5 H22.9"/></g></g></svg><div class="t" style="left:56px;top:85.20px;font-size:14px;line-height:21.6px;color:#44474c;letter-spacing:0px"><b style="color:#2e3136;letter-spacing:-0.25px">$134.95 USD</b> <span style="display:inline-block;font-weight:700;color:#2aa765;background:#d9f3e2;border-radius:2px;padding:0 7px;line-height:21.6px;font-size:13px;letter-spacing:-0.35px;vertical-align:1px">paid</span> by <span class="ul2" style="letter-spacing:-0.06px">#3472 - Cloud4US ISP</span> for <span class="ul2" style="letter-spacing:-0.06px">#68185</span></div><div class="t" style="left:729.00px;top:90.89px;font-size:11px;color:#8a9099;font-weight:400;letter-spacing:0px;text-align:right;transform:translateX(-100%)">6 hours ago</div><svg style="left:0;top:0" width="779" height="358"><circle cx="753" cy="95.8" r="9.7" fill="#fff" stroke="#e8453c" stroke-width="1.1"/></svg><div class="t" style="left:753.00px;top:90.96px;font-size:9.5px;color:#e8453c;font-weight:700;letter-spacing:-0.3px;transform:translateX(-50%) scaleX(0.82)">MG</div><svg style="left:13px;top:112px" width="30" height="30"><g transform="translate(1 0)"><g fill="none" stroke="#2e3136" stroke-width="1.1"><rect x="4.5" y="6.4" width="15.1" height="10.9" rx="1.5"/><path d="M5.4 7.4 L11.9 11.6 L18.2 7.4"/><circle cx="18.5" cy="16.5" r="5.3" fill="#fff"/><path d="M18.5 14.1 V18.9 M16.1 16.5 H20.9"/></g></g></svg><div class="t" style="left:56px;top:113.20px;font-size:14px;line-height:21.6px;color:#44474c;letter-spacing:0px"><span class="ul2" style="letter-spacing:-0.06px">#28230 - John Doe</span> <span style="display:inline-block;font-weight:700;color:#3a3d42;background:#e8e9ed;border-radius:2px;padding:0 7px;line-height:21.6px;font-size:13px;letter-spacing:-0.35px;vertical-align:1px">opened a new ticket</span> <span class="ul2" style="letter-spacing:-0.06px">#92362</span></div><div class="t" style="left:729.00px;top:118.89px;font-size:11px;color:#8a9099;font-weight:400;letter-spacing:0px;text-align:right;transform:translateX(-100%)">6 hours ago</div><svg style="left:0;top:0" width="779" height="358"><circle cx="753" cy="123.8" r="9.7" fill="#fff" stroke="#e8453c" stroke-width="1.1"/></svg><div class="t" style="left:753.00px;top:118.96px;font-size:9.5px;color:#e8453c;font-weight:700;letter-spacing:-0.3px;transform:translateX(-50%) scaleX(0.82)">MG</div><svg style="left:13px;top:140px" width="30" height="30"><g fill="none" stroke="#e8453c" stroke-width="1.1"><circle cx="14.5" cy="13.2" r="7.2"/><path d="M11.7 10.4 L17.3 16 M17.3 10.4 L11.7 16"/></g></svg><div class="t" style="left:56px;top:141.20px;font-size:14px;line-height:21.6px;color:#44474c;letter-spacing:0px"><span class="ul2" style="letter-spacing:-0.06px">#25251 - Steve Palmer</span> <span style="display:inline-block;font-weight:700;color:#e53b35;background:#fde1e1;border-radius:2px;padding:0 7px;line-height:21.6px;font-size:13px;letter-spacing:-0.35px;vertical-align:1px">cancelled their service</span> <span class="ul2" style="letter-spacing:-0.06px">#93029</span> <b style="color:#2e3136;letter-spacing:-0.5px">mydomain.com</b></div><div class="t" style="left:729.00px;top:146.89px;font-size:11px;color:#8a9099;font-weight:400;letter-spacing:0px;text-align:right;transform:translateX(-100%)">6 hours ago</div><svg style="left:0;top:0" width="779" height="358"><circle cx="753" cy="151.8" r="9.7" fill="#fff" stroke="#e8453c" stroke-width="1.1"/></svg><div class="t" style="left:753.00px;top:146.96px;font-size:9.5px;color:#e8453c;font-weight:700;letter-spacing:-0.3px;transform:translateX(-50%) scaleX(0.82)">MG</div><svg style="left:13px;top:168px" width="30" height="30"><g fill="none" stroke="#e8453c" stroke-width="1.1"><circle cx="14.5" cy="13.2" r="7.2"/><path d="M11.7 10.4 L17.3 16 M17.3 10.4 L11.7 16"/></g></svg><div class="t" style="left:56px;top:169.20px;font-size:14px;line-height:21.6px;color:#44474c;letter-spacing:0px"><span class="ul2" style="letter-spacing:-0.06px">#25251 - Steve Palmer</span> <span style="display:inline-block;font-weight:700;color:#e53b35;background:#fde1e1;border-radius:2px;padding:0 7px;line-height:21.6px;font-size:13px;letter-spacing:-0.35px;vertical-align:1px">cancelled their service</span> <span class="ul2" style="letter-spacing:-0.06px">#93028</span> <b style="color:#2e3136;letter-spacing:-0.5px">oldproject.com</b></div><div class="t" style="left:729.00px;top:174.89px;font-size:11px;color:#8a9099;font-weight:400;letter-spacing:0px;text-align:right;transform:translateX(-100%)">6 hours ago</div><svg style="left:0;top:0" width="779" height="358"><circle cx="753" cy="179.8" r="9.7" fill="#fff" stroke="#e8453c" stroke-width="1.1"/></svg><div class="t" style="left:753.00px;top:174.96px;font-size:9.5px;color:#e8453c;font-weight:700;letter-spacing:-0.3px;transform:translateX(-50%) scaleX(0.82)">MG</div><svg style="left:13px;top:196px" width="30" height="30"><g transform="translate(1 0)"><g fill="none" stroke="#2e3136" stroke-width="1.1"><rect x="4.5" y="6.4" width="15.1" height="10.9" rx="1.5"/><path d="M5.4 7.4 L11.9 11.6 L18.2 7.4"/><circle cx="18.5" cy="16.5" r="5.3" fill="#fff"/><path d="M18.5 14.1 V18.9 M16.1 16.5 H20.9"/></g></g></svg><div class="t" style="left:56px;top:197.20px;font-size:14px;line-height:21.6px;color:#44474c;letter-spacing:0px"><span style="display:inline-block;font-weight:700;color:#3a3d42;background:#e8e9ed;border-radius:2px;padding:0 7px;line-height:21.6px;font-size:13px;letter-spacing:-0.35px;vertical-align:1px">opened a new ticket</span> <span class="ul2" style="letter-spacing:-0.06px">#92361</span></div><div class="t" style="left:729.00px;top:202.89px;font-size:11px;color:#8a9099;font-weight:400;letter-spacing:0px;text-align:right;transform:translateX(-100%)">6 hours ago</div><svg style="left:0;top:0" width="779" height="358"><circle cx="753" cy="207.8" r="9.7" fill="#fff" stroke="#e8453c" stroke-width="1.1"/></svg><div class="t" style="left:753.00px;top:202.96px;font-size:9.5px;color:#e8453c;font-weight:700;letter-spacing:-0.3px;transform:translateX(-50%) scaleX(0.82)">MG</div><svg style="left:13px;top:224px" width="30" height="30"><g transform="translate(1 0)"><g fill="none" stroke="#2e3136" stroke-width="1.1"><rect x="4.5" y="6.4" width="15.1" height="10.9" rx="1.5"/><path d="M5.4 7.4 L11.9 11.6 L18.2 7.4"/><circle cx="18.5" cy="16.5" r="5.3" fill="#fff"/><path d="M18.5 14.1 V18.9 M16.1 16.5 H20.9"/></g></g></svg><div class="t" style="left:56px;top:225.20px;font-size:14px;line-height:21.6px;color:#44474c;letter-spacing:0px"><span class="ul2" style="letter-spacing:-0.06px">#12997 - Phil Corleone</span> <span style="display:inline-block;font-weight:700;color:#3a3d42;background:#e8e9ed;border-radius:2px;padding:0 7px;line-height:21.6px;font-size:13px;letter-spacing:-0.35px;vertical-align:1px">opened a new ticket</span> <span class="ul2" style="letter-spacing:-0.06px">#92360</span></div><div class="t" style="left:729.00px;top:230.89px;font-size:11px;color:#8a9099;font-weight:400;letter-spacing:0px;text-align:right;transform:translateX(-100%)">7 hours ago</div><svg style="left:0;top:0" width="779" height="358"><circle cx="753" cy="235.8" r="9.7" fill="#fff" stroke="#e8453c" stroke-width="1.1"/></svg><div class="t" style="left:753.00px;top:230.96px;font-size:9.5px;color:#e8453c;font-weight:700;letter-spacing:-0.3px;transform:translateX(-50%) scaleX(0.82)">MG</div><svg style="left:13px;top:252px" width="30" height="30"><g fill="none" stroke="#2196f3" stroke-width="1.1"><circle cx="14.5" cy="13.2" r="7.2"/><path d="M14.5 9.6 V16.8 M10.9 13.2 H18.1"/></g></svg><div class="t" style="left:56px;top:253.20px;font-size:14px;line-height:21.6px;color:#44474c;letter-spacing:0px"><span class="ul2" style="letter-spacing:-0.06px">Service #93663</span> <span style="display:inline-block;font-weight:700;color:#1d8fe0;background:#d9eefc;border-radius:2px;padding:0 7px;line-height:21.6px;font-size:13px;letter-spacing:-0.35px;vertical-align:1px">activated</span> for <span class="ul2" style="letter-spacing:-0.06px">#28606 - Camilo Bargos</span></div><div class="t" style="left:729.00px;top:258.89px;font-size:11px;color:#8a9099;font-weight:400;letter-spacing:0px;text-align:right;transform:translateX(-100%)">7 hours ago</div><svg style="left:0;top:0" width="779" height="358"><circle cx="753" cy="263.8" r="9.7" fill="#fff" stroke="#e8453c" stroke-width="1.1"/></svg><div class="t" style="left:753.00px;top:258.96px;font-size:9.5px;color:#e8453c;font-weight:700;letter-spacing:-0.3px;transform:translateX(-50%) scaleX(0.82)">MG</div><svg style="left:13px;top:280px" width="30" height="30"><g fill="none" stroke="#2196f3" stroke-width="1.1"><circle cx="14.5" cy="13.2" r="7.2"/><path d="M14.5 9.6 V16.8 M10.9 13.2 H18.1"/></g></svg><div class="t" style="left:56px;top:281.20px;font-size:14px;line-height:21.6px;color:#44474c;letter-spacing:0px"><span class="ul2" style="letter-spacing:-0.06px">Service #93660</span> <span style="display:inline-block;font-weight:700;color:#1d8fe0;background:#d9eefc;border-radius:2px;padding:0 7px;line-height:21.6px;font-size:13px;letter-spacing:-0.35px;vertical-align:1px">activated</span> for <span class="ul2" style="letter-spacing:-0.06px">#28604 - Zen Kalinsky</span></div><div class="t" style="left:729.00px;top:286.89px;font-size:11px;color:#8a9099;font-weight:400;letter-spacing:0px;text-align:right;transform:translateX(-100%)">7 hours ago</div><svg style="left:0;top:0" width="779" height="358"><circle cx="753" cy="291.8" r="9.7" fill="#fff" stroke="#e8453c" stroke-width="1.1"/></svg><div class="t" style="left:753.00px;top:286.96px;font-size:9.5px;color:#e8453c;font-weight:700;letter-spacing:-0.3px;transform:translateX(-50%) scaleX(0.82)">MG</div><svg style="left:13px;top:308px" width="30" height="30"><g fill="none" stroke="#e8453c" stroke-width="1.1"><circle cx="14.5" cy="13.2" r="7.2"/><path d="M11.7 10.4 L17.3 16 M17.3 10.4 L11.7 16"/></g></svg><div class="t" style="left:56px;top:309.20px;font-size:14px;line-height:21.6px;color:#44474c;letter-spacing:0px"><span class="ul2" style="letter-spacing:-0.06px">#26216 - Jesse Pinkman</span> <span style="display:inline-block;font-weight:700;color:#e53b35;background:#fde1e1;border-radius:2px;padding:0 7px;line-height:21.6px;font-size:13px;letter-spacing:-0.35px;vertical-align:1px">cancelled their service</span> <span class="ul2" style="letter-spacing:-0.06px">#84365</span> <b style="color:#2e3136;letter-spacing:-0.5px">service.net</b></div><div class="t" style="left:729.00px;top:314.89px;font-size:11px;color:#8a9099;font-weight:400;letter-spacing:0px;text-align:right;transform:translateX(-100%)">8 hours ago</div><svg style="left:0;top:0" width="779" height="358"><circle cx="753" cy="319.8" r="9.7" fill="#fff" stroke="#e8453c" stroke-width="1.1"/></svg><div class="t" style="left:753.00px;top:314.96px;font-size:9.5px;color:#e8453c;font-weight:700;letter-spacing:-0.3px;transform:translateX(-50%) scaleX(0.82)">MG</div><svg style="left:13px;top:336px" width="30" height="30"><g fill="none" stroke="#e8453c" stroke-width="1.1"><circle cx="14.5" cy="13.2" r="7.2"/><path d="M11.7 10.4 L17.3 16 M17.3 10.4 L11.7 16"/></g></svg><div class="t" style="left:56px;top:337.20px;font-size:14px;line-height:21.6px;color:#44474c;letter-spacing:0px"><span class="ul2" style="letter-spacing:-0.06px">#26216 - Jesse Pinkman</span> <span style="display:inline-block;font-weight:700;color:#e53b35;background:#fde1e1;border-radius:2px;padding:0 7px;line-height:21.6px;font-size:13px;letter-spacing:-0.35px;vertical-align:1px">cancelled their service</span> <span class="ul2" style="letter-spacing:-0.06px">#84364</span> <b style="color:#2e3136;letter-spacing:-0.5px">blog.info</b></div><div class="t" style="left:729.00px;top:342.89px;font-size:11px;color:#8a9099;font-weight:400;letter-spacing:0px;text-align:right;transform:translateX(-100%)">8 hours ago</div><svg style="left:0;top:0" width="779" height="358"><circle cx="753" cy="347.8" r="9.7" fill="#fff" stroke="#e8453c" stroke-width="1.1"/></svg><div class="t" style="left:753.00px;top:342.96px;font-size:9.5px;color:#e8453c;font-weight:700;letter-spacing:-0.3px;transform:translateX(-50%) scaleX(0.82)">MG</div></div><div class="a" style="left:140px;top:684px;width:779px;height:358px;background:#fff;overflow:hidden"><div class="t" style="left:18.40px;top:19.60px;font-size:15px;color:#2e3136;font-weight:400;letter-spacing:0.3px;-webkit-text-stroke:0.35px #2e3136">New Users</div><svg style="left:0;top:0" width="779" height="358"><path d="M103.2 26 L107.4 30.2 L111.6 26" fill="none" stroke="#3f4247" stroke-width="1.3"/></svg><div class="a" style="left:0;top:55px;width:779px;height:1px;background:#e1e3e6"></div><svg style="left:0;top:0" width="779" height="358"><clipPath id="nu0"><circle cx="28.00" cy="76.00" r="11.9"/></clipPath><g clip-path="url(#nu0)"><circle cx="28.00" cy="76.00" r="12" fill="#fff"/><rect x="22.09" y="70.09" width="11.93" height="11.93" rx="0.00" fill="#6a2c10"/><circle cx="23.51" cy="66.97" r="1.28" fill="#6a2c10"/><circle cx="26.35" cy="66.97" r="1.28" fill="#6a2c10"/><circle cx="30.90" cy="65.26" r="1.28" fill="#6a2c10"/><circle cx="30.90" cy="68.53" r="1.28" fill="#6a2c10"/><circle cx="37.15" cy="71.37" r="1.28" fill="#6a2c10"/><circle cx="37.15" cy="74.64" r="1.28" fill="#6a2c10"/><circle cx="35.44" cy="78.90" r="1.28" fill="#6a2c10"/><circle cx="38.57" cy="78.90" r="1.28" fill="#6a2c10"/><circle cx="24.93" cy="83.44" r="1.28" fill="#6a2c10"/><circle cx="24.93" cy="86.57" r="1.28" fill="#6a2c10"/><circle cx="29.48" cy="85.01" r="1.28" fill="#6a2c10"/><circle cx="32.60" cy="85.01" r="1.28" fill="#6a2c10"/><circle cx="17.26" cy="72.93" r="1.28" fill="#6a2c10"/><circle cx="20.53" cy="72.93" r="1.28" fill="#6a2c10"/><circle cx="18.97" cy="77.48" r="1.28" fill="#6a2c10"/><circle cx="18.97" cy="80.60" r="1.28" fill="#6a2c10"/><circle cx="18.40" cy="69.24" r="1.28" fill="#6a2c10"/><circle cx="34.59" cy="66.40" r="1.28" fill="#6a2c10"/><circle cx="37.43" cy="82.59" r="1.28" fill="#6a2c10"/><circle cx="21.24" cy="85.43" r="1.28" fill="#6a2c10"/><rect x="23.51" y="66.40" width="2.84" height="1.14" rx="0.00" fill="#b58a74"/><rect x="30.33" y="65.26" width="1.14" height="3.27" rx="0.00" fill="#b58a74"/><rect x="36.58" y="71.37" width="1.14" height="3.27" rx="0.00" fill="#b58a74"/><rect x="35.44" y="78.33" width="3.12" height="1.14" rx="0.00" fill="#b58a74"/><rect x="24.36" y="83.44" width="1.14" height="3.12" rx="0.00" fill="#b58a74"/><rect x="29.48" y="84.44" width="3.12" height="1.14" rx="0.00" fill="#b58a74"/><rect x="17.26" y="72.36" width="3.27" height="1.14" rx="0.00" fill="#b58a74"/><rect x="18.40" y="77.48" width="1.14" height="3.12" rx="0.00" fill="#b58a74"/></g><circle cx="28.00" cy="76.00" r="11.9" fill="none" stroke="#e2e3e6" stroke-width="0.8"/><circle cx="752" cy="75.8" r="10.6" fill="#fff" stroke="#e8453c" stroke-width="1.15"/><clipPath id="nu1"><circle cx="28.00" cy="115.00" r="11.9"/></clipPath><g clip-path="url(#nu1)"><circle cx="28.00" cy="115.00" r="12" fill="#fff"/><circle cx="28.00" cy="115.00" r="11.93" fill="#e6dfb6"/><rect x="17.26" y="104.26" width="4.69" height="4.69" rx="0.00" fill="#cbbf6e"/><rect x="18.40" y="105.40" width="2.41" height="2.41" rx="0.00" fill="#f3efdb"/><rect x="17.26" y="110.09" width="4.69" height="4.69" rx="0.00" fill="#cbbf6e"/><rect x="18.40" y="111.22" width="2.41" height="2.41" rx="0.00" fill="#f3efdb"/><rect x="17.26" y="115.91" width="4.69" height="4.69" rx="0.00" fill="#cbbf6e"/><rect x="18.40" y="117.05" width="2.41" height="2.41" rx="0.00" fill="#f3efdb"/><rect x="17.26" y="121.73" width="4.69" height="4.69" rx="0.00" fill="#cbbf6e"/><rect x="18.40" y="122.87" width="2.41" height="2.41" rx="0.00" fill="#f3efdb"/><rect x="23.09" y="104.26" width="4.69" height="4.69" rx="0.00" fill="#cbbf6e"/><rect x="24.22" y="105.40" width="2.41" height="2.41" rx="0.00" fill="#f3efdb"/><rect x="23.09" y="110.09" width="4.69" height="4.69" rx="0.00" fill="#cbbf6e"/><rect x="24.22" y="111.22" width="2.41" height="2.41" rx="0.00" fill="#f3efdb"/><rect x="23.09" y="115.91" width="4.69" height="4.69" rx="0.00" fill="#cbbf6e"/><rect x="24.22" y="117.05" width="2.41" height="2.41" rx="0.00" fill="#f3efdb"/><rect x="23.09" y="121.73" width="4.69" height="4.69" rx="0.00" fill="#cbbf6e"/><rect x="24.22" y="122.87" width="2.41" height="2.41" rx="0.00" fill="#f3efdb"/><rect x="28.91" y="104.26" width="4.69" height="4.69" rx="0.00" fill="#cbbf6e"/><rect x="30.05" y="105.40" width="2.41" height="2.41" rx="0.00" fill="#f3efdb"/><rect x="28.91" y="110.09" width="4.69" height="4.69" rx="0.00" fill="#cbbf6e"/><rect x="30.05" y="111.22" width="2.41" height="2.41" rx="0.00" fill="#f3efdb"/><rect x="28.91" y="115.91" width="4.69" height="4.69" rx="0.00" fill="#cbbf6e"/><rect x="30.05" y="117.05" width="2.41" height="2.41" rx="0.00" fill="#f3efdb"/><rect x="28.91" y="121.73" width="4.69" height="4.69" rx="0.00" fill="#cbbf6e"/><rect x="30.05" y="122.87" width="2.41" height="2.41" rx="0.00" fill="#f3efdb"/><rect x="34.73" y="104.26" width="4.69" height="4.69" rx="0.00" fill="#cbbf6e"/><rect x="35.87" y="105.40" width="2.41" height="2.41" rx="0.00" fill="#f3efdb"/><rect x="34.73" y="110.09" width="4.69" height="4.69" rx="0.00" fill="#cbbf6e"/><rect x="35.87" y="111.22" width="2.41" height="2.41" rx="0.00" fill="#f3efdb"/><rect x="34.73" y="115.91" width="4.69" height="4.69" rx="0.00" fill="#cbbf6e"/><rect x="35.87" y="117.05" width="2.41" height="2.41" rx="0.00" fill="#f3efdb"/><rect x="34.73" y="121.73" width="4.69" height="4.69" rx="0.00" fill="#cbbf6e"/><rect x="35.87" y="122.87" width="2.41" height="2.41" rx="0.00" fill="#f3efdb"/><rect x="27.20" y="103.12" width="1.70" height="23.86" rx="0.00" fill="#fff"/><rect x="16.12" y="114.20" width="23.86" height="1.70" rx="0.00" fill="#fff"/></g><circle cx="28.00" cy="115.00" r="11.9" fill="none" stroke="#e2e3e6" stroke-width="0.8"/><circle cx="752" cy="114.8" r="10.6" fill="#fff" stroke="#e8453c" stroke-width="1.15"/><clipPath id="nu2"><circle cx="28.00" cy="154.00" r="11.9"/></clipPath><g clip-path="url(#nu2)"><circle cx="28.00" cy="154.00" r="12" fill="#fff"/><rect x="22.80" y="142.12" width="5.26" height="5.40" rx="0.00" fill="#7bef3a"/><rect x="28.06" y="142.98" width="5.97" height="4.83" rx="0.00" fill="#7bef3a"/><rect x="16.98" y="148.09" width="5.11" height="5.40" rx="0.00" fill="#7bef3a"/><rect x="16.12" y="154.06" width="5.97" height="4.83" rx="0.00" fill="#7bef3a"/><rect x="34.02" y="148.66" width="5.97" height="5.40" rx="0.00" fill="#7bef3a"/><rect x="34.02" y="154.06" width="5.11" height="5.97" rx="0.00" fill="#7bef3a"/><rect x="22.09" y="160.02" width="5.97" height="5.11" rx="0.00" fill="#7bef3a"/><rect x="28.06" y="160.02" width="4.83" height="5.68" rx="0.00" fill="#7bef3a"/><circle cx="24.93" cy="150.93" r="1.28" fill="#7bef3a"/><circle cx="30.90" cy="150.93" r="1.28" fill="#7bef3a"/><circle cx="24.93" cy="156.90" r="1.28" fill="#7bef3a"/><circle cx="30.90" cy="156.90" r="1.28" fill="#7bef3a"/><circle cx="21.24" cy="144.40" r="1.28" fill="#7bef3a"/><circle cx="37.43" cy="147.24" r="1.28" fill="#7bef3a"/><circle cx="18.40" cy="160.59" r="1.28" fill="#7bef3a"/><circle cx="34.59" cy="163.43" r="1.28" fill="#7bef3a"/><rect x="24.93" y="143.55" width="1.14" height="3.69" rx="0.00" fill="#c8f7a8"/><rect x="30.05" y="144.68" width="2.84" height="1.14" rx="0.00" fill="#c8f7a8"/><rect x="18.11" y="149.80" width="3.12" height="1.14" rx="0.00" fill="#c8f7a8"/><rect x="35.16" y="151.50" width="3.41" height="1.14" rx="0.00" fill="#c8f7a8"/></g><circle cx="28.00" cy="154.00" r="11.9" fill="none" stroke="#e2e3e6" stroke-width="0.8"/><circle cx="752" cy="153.8" r="10.6" fill="#fff" stroke="#e8453c" stroke-width="1.15"/><clipPath id="nu3"><circle cx="28.00" cy="193.00" r="11.9"/></clipPath><g clip-path="url(#nu3)"><circle cx="28.00" cy="193.00" r="12" fill="#fff"/><rect x="22.80" y="181.12" width="5.26" height="5.40" rx="0.00" fill="#7bef3a"/><rect x="28.06" y="181.98" width="5.97" height="4.83" rx="0.00" fill="#7bef3a"/><rect x="16.98" y="187.09" width="5.11" height="5.40" rx="0.00" fill="#7bef3a"/><rect x="16.12" y="193.06" width="5.97" height="4.83" rx="0.00" fill="#7bef3a"/><rect x="34.02" y="187.66" width="5.97" height="5.40" rx="0.00" fill="#7bef3a"/><rect x="34.02" y="193.06" width="5.11" height="5.97" rx="0.00" fill="#7bef3a"/><rect x="22.09" y="199.02" width="5.97" height="5.11" rx="0.00" fill="#7bef3a"/><rect x="28.06" y="199.02" width="4.83" height="5.68" rx="0.00" fill="#7bef3a"/><circle cx="24.93" cy="189.93" r="1.28" fill="#7bef3a"/><circle cx="30.90" cy="189.93" r="1.28" fill="#7bef3a"/><circle cx="24.93" cy="195.90" r="1.28" fill="#7bef3a"/><circle cx="30.90" cy="195.90" r="1.28" fill="#7bef3a"/><circle cx="21.24" cy="183.40" r="1.28" fill="#7bef3a"/><circle cx="37.43" cy="186.24" r="1.28" fill="#7bef3a"/><circle cx="18.40" cy="199.59" r="1.28" fill="#7bef3a"/><circle cx="34.59" cy="202.43" r="1.28" fill="#7bef3a"/><rect x="24.93" y="182.55" width="1.14" height="3.69" rx="0.00" fill="#c8f7a8"/><rect x="30.05" y="183.68" width="2.84" height="1.14" rx="0.00" fill="#c8f7a8"/><rect x="18.11" y="188.80" width="3.12" height="1.14" rx="0.00" fill="#c8f7a8"/><rect x="35.16" y="190.50" width="3.41" height="1.14" rx="0.00" fill="#c8f7a8"/></g><circle cx="28.00" cy="193.00" r="11.9" fill="none" stroke="#e2e3e6" stroke-width="0.8"/><circle cx="752" cy="192.8" r="10.6" fill="#fff" stroke="#e8453c" stroke-width="1.15"/><clipPath id="nu4"><circle cx="28.00" cy="232.00" r="11.9"/></clipPath><g clip-path="url(#nu4)"><circle cx="28.00" cy="232.00" r="12" fill="#fff"/><rect x="24.93" y="222.97" width="5.97" height="3.12" rx="0.00" fill="#17b05a"/><rect x="22.09" y="226.09" width="11.93" height="2.84" rx="0.00" fill="#17b05a"/><rect x="18.97" y="228.93" width="17.90" height="5.97" rx="0.00" fill="#17b05a"/><rect x="22.09" y="234.90" width="11.93" height="3.12" rx="0.00" fill="#17b05a"/><rect x="24.93" y="238.02" width="5.97" height="2.84" rx="0.00" fill="#17b05a"/><rect x="22.09" y="220.12" width="2.84" height="2.84" rx="0.00" fill="#17b05a"/><rect x="30.90" y="220.12" width="3.12" height="2.84" rx="0.00" fill="#17b05a"/><rect x="16.12" y="226.09" width="2.84" height="2.84" rx="0.00" fill="#17b05a"/><rect x="16.12" y="234.90" width="2.84" height="3.12" rx="0.00" fill="#17b05a"/><rect x="36.86" y="226.09" width="2.84" height="2.84" rx="0.00" fill="#17b05a"/><rect x="36.86" y="234.90" width="2.84" height="3.12" rx="0.00" fill="#17b05a"/><rect x="22.09" y="240.86" width="2.84" height="2.84" rx="0.00" fill="#17b05a"/><rect x="30.90" y="240.86" width="3.12" height="2.84" rx="0.00" fill="#17b05a"/><circle cx="24.93" cy="228.93" r="1.19" fill="#d3efdf"/><circle cx="30.90" cy="228.93" r="1.19" fill="#d3efdf"/><circle cx="24.93" cy="234.90" r="1.19" fill="#d3efdf"/><circle cx="30.90" cy="234.90" r="1.19" fill="#d3efdf"/></g><circle cx="28.00" cy="232.00" r="11.9" fill="none" stroke="#e2e3e6" stroke-width="0.8"/><circle cx="752" cy="231.8" r="10.6" fill="#fff" stroke="#e8453c" stroke-width="1.15"/><clipPath id="nu5"><circle cx="28.00" cy="271.00" r="11.9"/></clipPath><g clip-path="url(#nu5)"><circle cx="28.00" cy="271.00" r="12" fill="#fff"/><rect x="24.93" y="261.97" width="5.97" height="3.12" rx="0.00" fill="#17b05a"/><rect x="22.09" y="265.09" width="11.93" height="2.84" rx="0.00" fill="#17b05a"/><rect x="18.97" y="267.93" width="17.90" height="5.97" rx="0.00" fill="#17b05a"/><rect x="22.09" y="273.90" width="11.93" height="3.12" rx="0.00" fill="#17b05a"/><rect x="24.93" y="277.02" width="5.97" height="2.84" rx="0.00" fill="#17b05a"/><rect x="22.09" y="259.12" width="2.84" height="2.84" rx="0.00" fill="#17b05a"/><rect x="30.90" y="259.12" width="3.12" height="2.84" rx="0.00" fill="#17b05a"/><rect x="16.12" y="265.09" width="2.84" height="2.84" rx="0.00" fill="#17b05a"/><rect x="16.12" y="273.90" width="2.84" height="3.12" rx="0.00" fill="#17b05a"/><rect x="36.86" y="265.09" width="2.84" height="2.84" rx="0.00" fill="#17b05a"/><rect x="36.86" y="273.90" width="2.84" height="3.12" rx="0.00" fill="#17b05a"/><rect x="22.09" y="279.86" width="2.84" height="2.84" rx="0.00" fill="#17b05a"/><rect x="30.90" y="279.86" width="3.12" height="2.84" rx="0.00" fill="#17b05a"/><circle cx="24.93" cy="267.93" r="1.19" fill="#d3efdf"/><circle cx="30.90" cy="267.93" r="1.19" fill="#d3efdf"/><circle cx="24.93" cy="273.90" r="1.19" fill="#d3efdf"/><circle cx="30.90" cy="273.90" r="1.19" fill="#d3efdf"/></g><circle cx="28.00" cy="271.00" r="11.9" fill="none" stroke="#e2e3e6" stroke-width="0.8"/><circle cx="752" cy="270.8" r="10.6" fill="#fff" stroke="#e8453c" stroke-width="1.15"/><clipPath id="nu6"><circle cx="28.00" cy="310.00" r="11.9"/></clipPath><g clip-path="url(#nu6)"><circle cx="28.00" cy="310.00" r="12" fill="#fff"/><rect x="22.09" y="304.09" width="11.93" height="11.93" rx="0.00" fill="#2db35e"/><rect x="23.23" y="305.23" width="3.69" height="3.69" rx="0.00" fill="#8fd8a8"/><rect x="23.94" y="305.94" width="2.27" height="2.27" rx="0.00" fill="#2db35e"/><rect x="29.19" y="305.23" width="3.69" height="3.69" rx="0.00" fill="#8fd8a8"/><rect x="29.90" y="305.94" width="2.27" height="2.27" rx="0.00" fill="#2db35e"/><rect x="23.23" y="311.19" width="3.69" height="3.69" rx="0.00" fill="#8fd8a8"/><rect x="23.94" y="311.90" width="2.27" height="2.27" rx="0.00" fill="#2db35e"/><rect x="29.19" y="311.19" width="3.69" height="3.69" rx="0.00" fill="#8fd8a8"/><rect x="29.90" y="311.90" width="2.27" height="2.27" rx="0.00" fill="#2db35e"/><g transform="rotate(0 28.00 310.00)"><path d="M23.23 299.26 L27.20 300.97 L23.23 302.67 Z M28.91 298.98 L30.90 303.24 L32.89 298.98 Z" fill="#2db35e"/></g><g transform="rotate(90 28.00 310.00)"><path d="M23.23 299.26 L27.20 300.97 L23.23 302.67 Z M28.91 298.98 L30.90 303.24 L32.89 298.98 Z" fill="#2db35e"/></g><g transform="rotate(180 28.00 310.00)"><path d="M23.23 299.26 L27.20 300.97 L23.23 302.67 Z M28.91 298.98 L30.90 303.24 L32.89 298.98 Z" fill="#2db35e"/></g><g transform="rotate(270 28.00 310.00)"><path d="M23.23 299.26 L27.20 300.97 L23.23 302.67 Z M28.91 298.98 L30.90 303.24 L32.89 298.98 Z" fill="#2db35e"/></g></g><circle cx="28.00" cy="310.00" r="11.9" fill="none" stroke="#e2e3e6" stroke-width="0.8"/><circle cx="752" cy="309.8" r="10.6" fill="#fff" stroke="#e8453c" stroke-width="1.15"/><clipPath id="nu7"><circle cx="28.00" cy="349.00" r="11.9"/></clipPath><g clip-path="url(#nu7)"><circle cx="28.00" cy="349.00" r="12" fill="#fff"/><rect x="22.09" y="343.09" width="11.93" height="11.93" rx="0.00" fill="#353a18"/><circle cx="24.93" cy="345.93" r="1.28" fill="#d9dbc9"/><circle cx="30.90" cy="345.93" r="1.28" fill="#d9dbc9"/><circle cx="24.93" cy="351.90" r="1.28" fill="#d9dbc9"/><circle cx="30.90" cy="351.90" r="1.28" fill="#d9dbc9"/><rect x="22.94" y="337.98" width="3.98" height="3.98" rx="0.85" fill="#353a18"/><rect x="28.91" y="337.98" width="3.98" height="3.98" rx="0.85" fill="#353a18"/><rect x="16.98" y="343.94" width="3.98" height="3.98" rx="0.85" fill="#353a18"/><rect x="16.98" y="349.91" width="3.98" height="3.98" rx="0.85" fill="#353a18"/><rect x="34.88" y="343.94" width="3.98" height="3.98" rx="0.85" fill="#353a18"/><rect x="34.88" y="349.91" width="3.98" height="3.98" rx="0.85" fill="#353a18"/><rect x="22.94" y="355.88" width="3.98" height="3.98" rx="0.85" fill="#353a18"/><rect x="28.91" y="355.88" width="3.98" height="3.98" rx="0.85" fill="#353a18"/><rect x="18.40" y="339.68" width="2.84" height="2.84" rx="0.85" fill="#353a18"/><rect x="34.59" y="339.68" width="2.84" height="2.84" rx="0.85" fill="#353a18"/><rect x="18.68" y="355.59" width="2.84" height="2.84" rx="0.85" fill="#353a18"/><rect x="34.59" y="355.59" width="2.84" height="2.84" rx="0.85" fill="#353a18"/></g><circle cx="28.00" cy="349.00" r="11.9" fill="none" stroke="#e2e3e6" stroke-width="0.8"/><circle cx="752" cy="348.8" r="10.6" fill="#fff" stroke="#e8453c" stroke-width="1.15"/><rect x="767.2" y="64" width="5.6" height="72.6" rx="2.8" fill="#ececee"/></svg><div class="a" style="left:0;top:94px;width:779px;height:1px;background:#e9ebee"></div><div class="t ul" style="left:52.400000000000006px;top:69.10px;font-size:13px;color:#3a3d42;letter-spacing:0.05px">#2005 - John Doe</div><div class="t" style="left:727.00px;top:70.29px;font-size:11px;color:#8a9099;font-weight:400;letter-spacing:0px;transform:translateX(-100%)">6 hours ago</div><div class="t" style="left:752.00px;top:70.41px;font-size:10.5px;color:#e8453c;font-weight:700;letter-spacing:-0.3px;transform:translateX(-50%) scaleX(0.8)">MG</div><div class="a" style="left:0;top:133px;width:779px;height:1px;background:#e9ebee"></div><div class="t ul" style="left:52.400000000000006px;top:108.10px;font-size:13px;color:#3a3d42;letter-spacing:0.05px">#2004 - Knox Ware</div><div class="t" style="left:727.00px;top:109.29px;font-size:11px;color:#8a9099;font-weight:400;letter-spacing:0px;transform:translateX(-100%)">8 hours ago</div><div class="t" style="left:752.00px;top:109.41px;font-size:10.5px;color:#e8453c;font-weight:700;letter-spacing:-0.3px;transform:translateX(-50%) scaleX(0.8)">MG</div><div class="a" style="left:0;top:172px;width:779px;height:1px;background:#e9ebee"></div><div class="t ul" style="left:52.400000000000006px;top:147.10px;font-size:13px;color:#3a3d42;letter-spacing:0.05px">#2003 - Keegan Lott</div><div class="t" style="left:727.00px;top:148.29px;font-size:11px;color:#8a9099;font-weight:400;letter-spacing:0px;transform:translateX(-100%)">19 hours ago</div><div class="t" style="left:752.00px;top:148.41px;font-size:10.5px;color:#e8453c;font-weight:700;letter-spacing:-0.3px;transform:translateX(-50%) scaleX(0.8)">MG</div><div class="a" style="left:0;top:211px;width:779px;height:1px;background:#e9ebee"></div><div class="t ul" style="left:52.400000000000006px;top:186.10px;font-size:13px;color:#3a3d42;letter-spacing:0.05px">#2002 - Adrew Lupin</div><div class="t" style="left:727.00px;top:187.29px;font-size:11px;color:#8a9099;font-weight:400;letter-spacing:0px;transform:translateX(-100%)">a day ago</div><div class="t" style="left:752.00px;top:187.41px;font-size:10.5px;color:#e8453c;font-weight:700;letter-spacing:-0.3px;transform:translateX(-50%) scaleX(0.8)">MG</div><div class="a" style="left:0;top:250px;width:779px;height:1px;background:#e9ebee"></div><div class="t ul" style="left:52.400000000000006px;top:225.10px;font-size:13px;color:#3a3d42;letter-spacing:0.05px">#2001 - Morgan Conor</div><div class="t" style="left:727.00px;top:226.29px;font-size:11px;color:#8a9099;font-weight:400;letter-spacing:0px;transform:translateX(-100%)">a day ago</div><div class="t" style="left:752.00px;top:226.41px;font-size:10.5px;color:#e8453c;font-weight:700;letter-spacing:-0.3px;transform:translateX(-50%) scaleX(0.8)">MG</div><div class="a" style="left:0;top:289px;width:779px;height:1px;background:#e9ebee"></div><div class="t ul" style="left:52.400000000000006px;top:264.10px;font-size:13px;color:#3a3d42;letter-spacing:0.05px">#2000 - Ferris Dale</div><div class="t" style="left:727.00px;top:265.29px;font-size:11px;color:#8a9099;font-weight:400;letter-spacing:0px;transform:translateX(-100%)">a day ago</div><div class="t" style="left:752.00px;top:265.41px;font-size:10.5px;color:#e8453c;font-weight:700;letter-spacing:-0.3px;transform:translateX(-50%) scaleX(0.8)">MG</div><div class="a" style="left:0;top:328px;width:779px;height:1px;background:#e9ebee"></div><div class="t ul" style="left:52.400000000000006px;top:303.10px;font-size:13px;color:#3a3d42;letter-spacing:0.05px">#1999 - Marshall Mercado</div><div class="t" style="left:727.00px;top:304.29px;font-size:11px;color:#8a9099;font-weight:400;letter-spacing:0px;transform:translateX(-100%)">a day ago</div><div class="t" style="left:752.00px;top:304.41px;font-size:10.5px;color:#e8453c;font-weight:700;letter-spacing:-0.3px;transform:translateX(-50%) scaleX(0.8)">MG</div><div class="t ul" style="left:52.400000000000006px;top:342.10px;font-size:13px;color:#3a3d42;letter-spacing:0.05px">#1998 - Kelly Holcomb</div><div class="t" style="left:727.00px;top:343.29px;font-size:11px;color:#8a9099;font-weight:400;letter-spacing:0px;transform:translateX(-100%)">a day ago</div><div class="t" style="left:752.00px;top:343.41px;font-size:10.5px;color:#e8453c;font-weight:700;letter-spacing:-0.3px;transform:translateX(-50%) scaleX(0.8)">MG</div></div><div class="a" style="left:935px;top:684px;width:779px;height:358px;background:linear-gradient(to bottom,#dff5e8 0%,#e6f7ed 30%,#f6fcf8 70%,#ffffff 100%);overflow:hidden"><div class="t" style="left:24.50px;top:19.30px;font-size:15px;color:#2e3136;font-weight:400;letter-spacing:0.4px;-webkit-text-stroke:0.35px #2e3136">Income</div><div class="t" style="left:668.00px;top:21.20px;font-size:13px;color:#3f4247;font-weight:400;letter-spacing:-0.05px;-webkit-text-stroke:0.25px #3f4247">This month</div><svg style="left:0;top:0" width="779" height="358"><path d="M741.7 26.2 L745.9 30.4 L750.1 26.2" fill="none" stroke="#3f4247" stroke-width="1.3"/></svg><div class="t" style="left:23.50px;top:56.89px;font-size:41px;color:#2aa765;font-weight:400;letter-spacing:-0.7px;-webkit-text-stroke:0.7px #e3f6ea">$12.21k USD</div><svg style="left:285.5px;top:72px" width="9" height="11"><path d="M4.5 0.5 V9.6 M0.8 6 L4.5 9.8 L8.2 6" fill="none" stroke="#e8453c" stroke-width="1.4"/></svg><div class="t" style="left:297.00px;top:70.50px;font-size:15px;color:#e8453c;font-weight:400;letter-spacing:0px;">-48%</div><div class="a" style="left:417px;top:67.20000000000005px;width:83.8px;height:21.4px;background:#d3efdd;border-radius:2px"></div><div class="t" style="left:424.20px;top:71.30px;font-size:13px;color:#2aa765;font-weight:700;letter-spacing:-0.25px;">$62.95 USD</div><div class="t" style="left:504.70000000000005px;top:70.15px;font-size:14px;color:#54575c">paid by <span class="ul2" style="color:#44474c">#1847 - John Matric</span> 7 hours ago</div><svg style="left:0;top:0" width="779" height="358"><defs><linearGradient id="ig" gradientUnits="userSpaceOnUse" x1="0" y1="138" x2="0" y2="333"><stop offset="0" stop-color="#9ddcb6"/><stop offset="1" stop-color="#e9f7ee"/></linearGradient></defs><path d="M23.70 309.40 L48.10 318.50 L72.10 286.30 L96.20 238.40 L120.40 138.90 L144.40 228.80 L168.50 265.20 L192.70 183.50 L216.90 300.00 L240.80 286.30 L264.80 250.40 L289.00 227.70 L312.90 161.30 L337.10 306.60 L361.30 334.00 L385.38 334.00 L409.46 334.00 L433.54 334.00 L457.62 334.00 L481.70 334.00 L505.78 334.00 L529.86 334.00 L553.94 334.00 L578.02 334.00 L602.10 334.00 L626.18 334.00 L650.26 334.00 L674.34 334.00 L698.42 334.00 L722.50 334.00 L746.58 334.00 L746.58 334.5 L23.70 334.5 Z" fill="url(#ig)"/><path d="M23.70 309.40 L48.10 318.50 L72.10 286.30 L96.20 238.40 L120.40 138.90 L144.40 228.80 L168.50 265.20 L192.70 183.50 L216.90 300.00 L240.80 286.30 L264.80 250.40 L289.00 227.70 L312.90 161.30 L337.10 306.60 L361.30 334.00 L385.38 334.00 L409.46 334.00 L433.54 334.00 L457.62 334.00 L481.70 334.00 L505.78 334.00 L529.86 334.00 L553.94 334.00 L578.02 334.00 L602.10 334.00 L626.18 334.00 L650.26 334.00 L674.34 334.00 L698.42 334.00 L722.50 334.00 L746.58 334.00" fill="none" stroke="#3dba73" stroke-width="1.15" stroke-linejoin="round"/></svg></div></body></html>
